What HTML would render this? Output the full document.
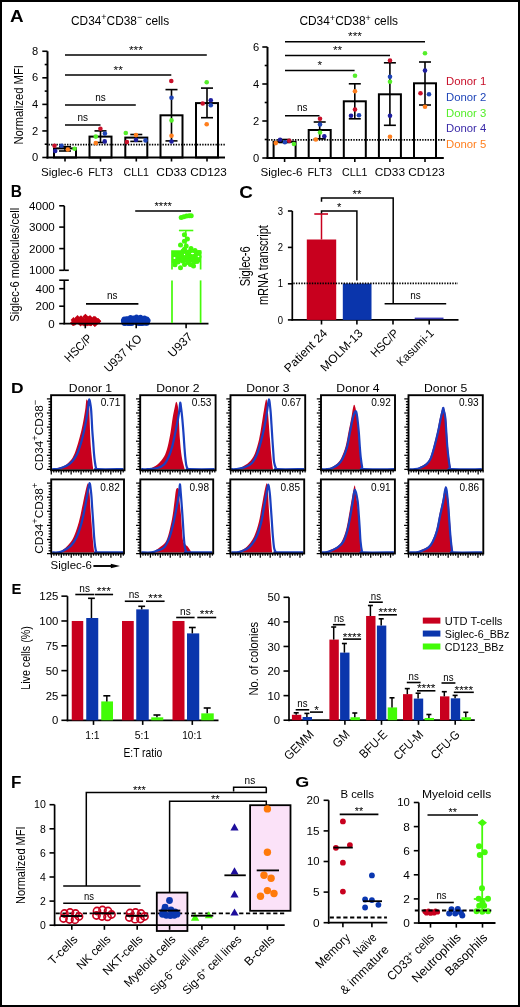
<!DOCTYPE html>
<html><head><meta charset="utf-8"><style>
html,body{margin:0;padding:0;background:#fff;}
svg{display:block;will-change:transform;}
text{font-family:"Liberation Sans", sans-serif;}
</style></head><body>
<svg width="520" height="1007" viewBox="0 0 520 1007">
<rect width="520" height="1007" fill="#fff"/>
<text x="10.00" y="22.20" font-size="17.4" textLength="13.60" lengthAdjust="spacingAndGlyphs" font-weight="bold">A</text>
<line x1="47.50" y1="51.26" x2="47.50" y2="158.50" stroke="#000" stroke-width="2"/>
<line x1="42.30" y1="157.50" x2="47.50" y2="157.50" stroke="#000" stroke-width="1.6"/>
<line x1="44.70" y1="144.22" x2="47.50" y2="144.22" stroke="#000" stroke-width="1.6"/>
<line x1="42.30" y1="130.94" x2="47.50" y2="130.94" stroke="#000" stroke-width="1.6"/>
<line x1="44.70" y1="117.66" x2="47.50" y2="117.66" stroke="#000" stroke-width="1.6"/>
<line x1="42.30" y1="104.38" x2="47.50" y2="104.38" stroke="#000" stroke-width="1.6"/>
<line x1="44.70" y1="91.10" x2="47.50" y2="91.10" stroke="#000" stroke-width="1.6"/>
<line x1="42.30" y1="77.82" x2="47.50" y2="77.82" stroke="#000" stroke-width="1.6"/>
<line x1="44.70" y1="64.54" x2="47.50" y2="64.54" stroke="#000" stroke-width="1.6"/>
<line x1="42.30" y1="51.26" x2="47.50" y2="51.26" stroke="#000" stroke-width="1.6"/>
<line x1="46.50" y1="157.50" x2="225.00" y2="157.50" stroke="#000" stroke-width="2"/>
<line x1="65.00" y1="157.50" x2="65.00" y2="161.50" stroke="#000" stroke-width="1.6"/>
<line x1="100.50" y1="157.50" x2="100.50" y2="161.50" stroke="#000" stroke-width="1.6"/>
<line x1="136.30" y1="157.50" x2="136.30" y2="161.50" stroke="#000" stroke-width="1.6"/>
<line x1="171.50" y1="157.50" x2="171.50" y2="161.50" stroke="#000" stroke-width="1.6"/>
<line x1="207.00" y1="157.50" x2="207.00" y2="161.50" stroke="#000" stroke-width="1.6"/>
<line x1="48.50" y1="144.62" x2="226.00" y2="144.62" stroke="#000" stroke-width="1.6" stroke-dasharray="1.4 1.25"/>
<rect x="54.00" y="148.40" width="22.00" height="9.10" fill="none" stroke="#000" stroke-width="2"/>
<rect x="89.50" y="136.60" width="22.00" height="20.90" fill="none" stroke="#000" stroke-width="2"/>
<rect x="125.30" y="137.60" width="22.00" height="19.90" fill="none" stroke="#000" stroke-width="2"/>
<rect x="160.50" y="115.30" width="22.00" height="42.20" fill="none" stroke="#000" stroke-width="2"/>
<rect x="196.00" y="103.10" width="22.00" height="54.40" fill="none" stroke="#000" stroke-width="2"/>
<line x1="65.00" y1="146.70" x2="65.00" y2="151.00" stroke="#000" stroke-width="1.6"/>
<line x1="59.00" y1="146.70" x2="71.00" y2="146.70" stroke="#000" stroke-width="1.6"/>
<line x1="59.00" y1="151.00" x2="71.00" y2="151.00" stroke="#000" stroke-width="1.6"/>
<line x1="100.50" y1="130.90" x2="100.50" y2="142.50" stroke="#000" stroke-width="1.6"/>
<line x1="94.50" y1="130.90" x2="106.50" y2="130.90" stroke="#000" stroke-width="1.6"/>
<line x1="94.50" y1="142.50" x2="106.50" y2="142.50" stroke="#000" stroke-width="1.6"/>
<line x1="136.30" y1="134.50" x2="136.30" y2="141.40" stroke="#000" stroke-width="1.6"/>
<line x1="130.30" y1="134.50" x2="142.30" y2="134.50" stroke="#000" stroke-width="1.6"/>
<line x1="130.30" y1="141.40" x2="142.30" y2="141.40" stroke="#000" stroke-width="1.6"/>
<line x1="171.50" y1="89.60" x2="171.50" y2="140.90" stroke="#000" stroke-width="1.6"/>
<line x1="165.50" y1="89.60" x2="177.50" y2="89.60" stroke="#000" stroke-width="1.6"/>
<line x1="165.50" y1="140.90" x2="177.50" y2="140.90" stroke="#000" stroke-width="1.6"/>
<line x1="207.00" y1="88.10" x2="207.00" y2="117.70" stroke="#000" stroke-width="1.6"/>
<line x1="201.00" y1="88.10" x2="213.00" y2="88.10" stroke="#000" stroke-width="1.6"/>
<line x1="201.00" y1="117.70" x2="213.00" y2="117.70" stroke="#000" stroke-width="1.6"/>
<circle cx="54.50" cy="145.70" r="2.3" fill="#c8102a"/>
<circle cx="55.20" cy="151.00" r="2.3" fill="#1e1ea0"/>
<circle cx="61.50" cy="145.70" r="2.3" fill="#1f45b8"/>
<circle cx="67.80" cy="149.50" r="2.3" fill="#ff7f1e"/>
<circle cx="74.60" cy="148.80" r="2.3" fill="#55ee2a"/>
<circle cx="100.40" cy="128.80" r="2.3" fill="#c8102a"/>
<circle cx="104.90" cy="133.60" r="2.3" fill="#1f45b8"/>
<circle cx="95.80" cy="136.60" r="2.3" fill="#55ee2a"/>
<circle cx="104.70" cy="141.40" r="2.3" fill="#1e1ea0"/>
<circle cx="95.80" cy="143.10" r="2.3" fill="#ff7f1e"/>
<circle cx="125.80" cy="133.00" r="2.3" fill="#55ee2a"/>
<circle cx="136.00" cy="135.10" r="2.3" fill="#ff7f1e"/>
<circle cx="126.90" cy="142.10" r="2.3" fill="#c8102a"/>
<circle cx="136.00" cy="140.00" r="2.3" fill="#1e1ea0"/>
<circle cx="145.50" cy="140.40" r="2.3" fill="#1f45b8"/>
<circle cx="171.30" cy="81.00" r="2.3" fill="#c8102a"/>
<circle cx="171.50" cy="97.70" r="2.3" fill="#1f45b8"/>
<circle cx="171.50" cy="120.40" r="2.3" fill="#55ee2a"/>
<circle cx="171.50" cy="135.80" r="2.3" fill="#ff7f1e"/>
<circle cx="171.50" cy="141.50" r="2.3" fill="#1e1ea0"/>
<circle cx="206.70" cy="82.30" r="2.3" fill="#55ee2a"/>
<circle cx="210.80" cy="100.20" r="2.3" fill="#1e1ea0"/>
<circle cx="202.70" cy="103.50" r="2.3" fill="#c8102a"/>
<circle cx="210.80" cy="105.20" r="2.3" fill="#1f45b8"/>
<circle cx="206.70" cy="124.20" r="2.3" fill="#ff7f1e"/>
<line x1="65.00" y1="125.00" x2="100.50" y2="125.00" stroke="#000" stroke-width="1.6"/>
<text x="82.75" y="120.50" font-size="11" text-anchor="middle" textLength="10.50" lengthAdjust="spacingAndGlyphs">ns</text>
<line x1="65.00" y1="105.00" x2="135.80" y2="105.00" stroke="#000" stroke-width="1.6"/>
<text x="100.40" y="100.50" font-size="11" text-anchor="middle" textLength="10.50" lengthAdjust="spacingAndGlyphs">ns</text>
<line x1="65.00" y1="75.00" x2="171.30" y2="75.00" stroke="#000" stroke-width="1.6"/>
<text x="118.15" y="73.60" font-size="11" text-anchor="middle" textLength="9.20" lengthAdjust="spacingAndGlyphs">**</text>
<line x1="65.00" y1="55.00" x2="206.80" y2="55.00" stroke="#000" stroke-width="1.6"/>
<text x="135.90" y="53.60" font-size="11" text-anchor="middle" textLength="13.80" lengthAdjust="spacingAndGlyphs">***</text>
<text x="38.30" y="161.10" font-size="10.2" text-anchor="end" textLength="6.20" lengthAdjust="spacingAndGlyphs">0</text>
<text x="38.30" y="134.54" font-size="10.2" text-anchor="end" textLength="6.20" lengthAdjust="spacingAndGlyphs">2</text>
<text x="38.30" y="107.98" font-size="10.2" text-anchor="end" textLength="6.20" lengthAdjust="spacingAndGlyphs">4</text>
<text x="38.30" y="81.42" font-size="10.2" text-anchor="end" textLength="6.20" lengthAdjust="spacingAndGlyphs">6</text>
<text x="38.30" y="54.86" font-size="10.2" text-anchor="end" textLength="6.20" lengthAdjust="spacingAndGlyphs">8</text>
<text x="61.90" y="175.60" font-size="10.6" text-anchor="middle" textLength="42.00" lengthAdjust="spacingAndGlyphs">Siglec-6</text>
<text x="100.50" y="175.60" font-size="10.6" text-anchor="middle" textLength="24.60" lengthAdjust="spacingAndGlyphs">FLT3</text>
<text x="136.30" y="175.60" font-size="10.6" text-anchor="middle" textLength="25.40" lengthAdjust="spacingAndGlyphs">CLL1</text>
<text x="171.50" y="175.60" font-size="10.6" text-anchor="middle" textLength="30.40" lengthAdjust="spacingAndGlyphs">CD33</text>
<text x="208.50" y="175.60" font-size="10.6" text-anchor="middle" textLength="36.40" lengthAdjust="spacingAndGlyphs">CD123</text>
<line x1="267.50" y1="47.00" x2="267.50" y2="159.00" stroke="#000" stroke-width="2"/>
<line x1="262.30" y1="158.00" x2="267.50" y2="158.00" stroke="#000" stroke-width="1.6"/>
<line x1="264.70" y1="139.50" x2="267.50" y2="139.50" stroke="#000" stroke-width="1.6"/>
<line x1="262.30" y1="121.00" x2="267.50" y2="121.00" stroke="#000" stroke-width="1.6"/>
<line x1="264.70" y1="102.50" x2="267.50" y2="102.50" stroke="#000" stroke-width="1.6"/>
<line x1="262.30" y1="84.00" x2="267.50" y2="84.00" stroke="#000" stroke-width="1.6"/>
<line x1="264.70" y1="65.50" x2="267.50" y2="65.50" stroke="#000" stroke-width="1.6"/>
<line x1="262.30" y1="47.00" x2="267.50" y2="47.00" stroke="#000" stroke-width="1.6"/>
<line x1="266.50" y1="158.00" x2="443.80" y2="158.00" stroke="#000" stroke-width="2"/>
<line x1="284.60" y1="158.00" x2="284.60" y2="162.00" stroke="#000" stroke-width="1.6"/>
<line x1="319.70" y1="158.00" x2="319.70" y2="162.00" stroke="#000" stroke-width="1.6"/>
<line x1="354.80" y1="158.00" x2="354.80" y2="162.00" stroke="#000" stroke-width="1.6"/>
<line x1="389.90" y1="158.00" x2="389.90" y2="162.00" stroke="#000" stroke-width="1.6"/>
<line x1="425.00" y1="158.00" x2="425.00" y2="162.00" stroke="#000" stroke-width="1.6"/>
<line x1="268.50" y1="139.90" x2="444.80" y2="139.90" stroke="#000" stroke-width="1.6" stroke-dasharray="1.4 1.25"/>
<rect x="273.60" y="141.80" width="22.00" height="16.20" fill="none" stroke="#000" stroke-width="2"/>
<rect x="308.70" y="130.00" width="22.00" height="28.00" fill="none" stroke="#000" stroke-width="2"/>
<rect x="343.80" y="101.30" width="22.00" height="56.70" fill="none" stroke="#000" stroke-width="2"/>
<rect x="378.90" y="94.30" width="22.00" height="63.70" fill="none" stroke="#000" stroke-width="2"/>
<rect x="414.00" y="83.30" width="22.00" height="74.70" fill="none" stroke="#000" stroke-width="2"/>
<line x1="284.60" y1="139.50" x2="284.60" y2="142.50" stroke="#000" stroke-width="1.6"/>
<line x1="278.60" y1="139.50" x2="290.60" y2="139.50" stroke="#000" stroke-width="1.6"/>
<line x1="278.60" y1="142.50" x2="290.60" y2="142.50" stroke="#000" stroke-width="1.6"/>
<line x1="319.70" y1="122.00" x2="319.70" y2="138.80" stroke="#000" stroke-width="1.6"/>
<line x1="313.70" y1="122.00" x2="325.70" y2="122.00" stroke="#000" stroke-width="1.6"/>
<line x1="313.70" y1="138.80" x2="325.70" y2="138.80" stroke="#000" stroke-width="1.6"/>
<line x1="354.80" y1="83.80" x2="354.80" y2="118.80" stroke="#000" stroke-width="1.6"/>
<line x1="348.80" y1="83.80" x2="360.80" y2="83.80" stroke="#000" stroke-width="1.6"/>
<line x1="348.80" y1="118.80" x2="360.80" y2="118.80" stroke="#000" stroke-width="1.6"/>
<line x1="389.90" y1="62.80" x2="389.90" y2="125.30" stroke="#000" stroke-width="1.6"/>
<line x1="383.90" y1="62.80" x2="395.90" y2="62.80" stroke="#000" stroke-width="1.6"/>
<line x1="383.90" y1="125.30" x2="395.90" y2="125.30" stroke="#000" stroke-width="1.6"/>
<line x1="425.00" y1="62.00" x2="425.00" y2="105.00" stroke="#000" stroke-width="1.6"/>
<line x1="419.00" y1="62.00" x2="431.00" y2="62.00" stroke="#000" stroke-width="1.6"/>
<line x1="419.00" y1="105.00" x2="431.00" y2="105.00" stroke="#000" stroke-width="1.6"/>
<circle cx="275.80" cy="143.10" r="2.3" fill="#ff7f1e"/>
<circle cx="280.10" cy="139.70" r="2.3" fill="#1e1ea0"/>
<circle cx="284.90" cy="142.20" r="2.3" fill="#1f45b8"/>
<circle cx="289.20" cy="140.70" r="2.3" fill="#c8102a"/>
<circle cx="293.90" cy="144.00" r="2.3" fill="#55ee2a"/>
<circle cx="320.00" cy="118.80" r="2.3" fill="#c8102a"/>
<circle cx="320.00" cy="124.50" r="2.3" fill="#1f45b8"/>
<circle cx="320.00" cy="132.50" r="2.3" fill="#55ee2a"/>
<circle cx="324.30" cy="136.30" r="2.3" fill="#1e1ea0"/>
<circle cx="315.80" cy="139.50" r="2.3" fill="#ff7f1e"/>
<circle cx="355.00" cy="75.80" r="2.3" fill="#55ee2a"/>
<circle cx="355.00" cy="91.30" r="2.3" fill="#ff7f1e"/>
<circle cx="355.00" cy="109.50" r="2.3" fill="#c8102a"/>
<circle cx="351.00" cy="115.80" r="2.3" fill="#1e1ea0"/>
<circle cx="359.00" cy="115.30" r="2.3" fill="#1f45b8"/>
<circle cx="390.00" cy="60.50" r="2.3" fill="#c8102a"/>
<circle cx="390.00" cy="76.80" r="2.3" fill="#1f45b8"/>
<circle cx="390.00" cy="81.80" r="2.3" fill="#55ee2a"/>
<circle cx="390.00" cy="115.80" r="2.3" fill="#1e1ea0"/>
<circle cx="390.00" cy="136.80" r="2.3" fill="#ff7f1e"/>
<circle cx="425.00" cy="53.30" r="2.3" fill="#55ee2a"/>
<circle cx="425.00" cy="70.50" r="2.3" fill="#1e1ea0"/>
<circle cx="420.50" cy="93.30" r="2.3" fill="#c8102a"/>
<circle cx="429.00" cy="94.30" r="2.3" fill="#1f45b8"/>
<circle cx="425.00" cy="106.80" r="2.3" fill="#ff7f1e"/>
<line x1="285.00" y1="115.80" x2="319.50" y2="115.80" stroke="#000" stroke-width="1.6"/>
<text x="302.25" y="111.30" font-size="11" text-anchor="middle" textLength="10.50" lengthAdjust="spacingAndGlyphs">ns</text>
<line x1="285.00" y1="70.50" x2="354.60" y2="70.50" stroke="#000" stroke-width="1.6"/>
<text x="319.80" y="69.10" font-size="11" text-anchor="middle" textLength="4.60" lengthAdjust="spacingAndGlyphs">*</text>
<line x1="285.00" y1="55.50" x2="390.00" y2="55.50" stroke="#000" stroke-width="1.6"/>
<text x="337.50" y="54.10" font-size="11" text-anchor="middle" textLength="9.20" lengthAdjust="spacingAndGlyphs">**</text>
<line x1="285.00" y1="41.80" x2="425.00" y2="41.80" stroke="#000" stroke-width="1.6"/>
<text x="355.00" y="40.40" font-size="11" text-anchor="middle" textLength="13.80" lengthAdjust="spacingAndGlyphs">***</text>
<text x="259.20" y="161.60" font-size="10.2" text-anchor="end" textLength="6.20" lengthAdjust="spacingAndGlyphs">0</text>
<text x="259.20" y="124.60" font-size="10.2" text-anchor="end" textLength="6.20" lengthAdjust="spacingAndGlyphs">2</text>
<text x="259.20" y="87.60" font-size="10.2" text-anchor="end" textLength="6.20" lengthAdjust="spacingAndGlyphs">4</text>
<text x="259.20" y="50.60" font-size="10.2" text-anchor="end" textLength="6.20" lengthAdjust="spacingAndGlyphs">6</text>
<text x="281.50" y="175.60" font-size="10.6" text-anchor="middle" textLength="42.00" lengthAdjust="spacingAndGlyphs">Siglec-6</text>
<text x="319.70" y="175.60" font-size="10.6" text-anchor="middle" textLength="24.60" lengthAdjust="spacingAndGlyphs">FLT3</text>
<text x="354.80" y="175.60" font-size="10.6" text-anchor="middle" textLength="25.40" lengthAdjust="spacingAndGlyphs">CLL1</text>
<text x="389.90" y="175.60" font-size="10.6" text-anchor="middle" textLength="30.40" lengthAdjust="spacingAndGlyphs">CD33</text>
<text x="426.50" y="175.60" font-size="10.6" text-anchor="middle" textLength="36.40" lengthAdjust="spacingAndGlyphs">CD123</text>
<text x="71.0" y="24.5" font-size="11.9" textLength="98.2" lengthAdjust="spacingAndGlyphs">CD34<tspan dy="-4.4" font-size="9">+</tspan><tspan dy="4.4">CD38</tspan><tspan dy="-4.4" font-size="9">−</tspan><tspan dy="4.4"> cells</tspan></text>
<text x="299.4" y="24.9" font-size="11.9" textLength="98.6" lengthAdjust="spacingAndGlyphs">CD34<tspan dy="-4.4" font-size="9">+</tspan><tspan dy="4.4">CD38</tspan><tspan dy="-4.4" font-size="9">+</tspan><tspan dy="4.4"> cells</tspan></text>
<text x="22.90" y="104.80" font-size="13.4" text-anchor="middle" textLength="79.50" lengthAdjust="spacingAndGlyphs" transform="rotate(-90 22.90 104.80)">Normalized MFI</text>
<text x="446.00" y="85.40" font-size="11" fill="#c8102a" textLength="40.30" lengthAdjust="spacingAndGlyphs">Donor 1</text>
<text x="446.00" y="101.00" font-size="11" fill="#1f45b8" textLength="40.30" lengthAdjust="spacingAndGlyphs">Donor 2</text>
<text x="446.00" y="116.60" font-size="11" fill="#55ee2a" textLength="40.30" lengthAdjust="spacingAndGlyphs">Donor 3</text>
<text x="446.00" y="132.20" font-size="11" fill="#3a2aa8" textLength="40.30" lengthAdjust="spacingAndGlyphs">Donor 4</text>
<text x="446.00" y="147.80" font-size="11" fill="#ff7f1e" textLength="40.30" lengthAdjust="spacingAndGlyphs">Donor 5</text>
<text x="10.80" y="197.30" font-size="16.2" textLength="11.20" lengthAdjust="spacingAndGlyphs" font-weight="bold">B</text>
<line x1="64.30" y1="205.80" x2="64.30" y2="270.30" stroke="#000" stroke-width="1.7"/>
<line x1="59.20" y1="205.80" x2="64.30" y2="205.80" stroke="#000" stroke-width="1.6"/>
<text x="54.80" y="209.70" font-size="11.2" text-anchor="end" textLength="25.80" lengthAdjust="spacingAndGlyphs">4000</text>
<line x1="59.20" y1="227.10" x2="64.30" y2="227.10" stroke="#000" stroke-width="1.6"/>
<text x="54.80" y="231.00" font-size="11.2" text-anchor="end" textLength="25.80" lengthAdjust="spacingAndGlyphs">3000</text>
<line x1="59.20" y1="248.60" x2="64.30" y2="248.60" stroke="#000" stroke-width="1.6"/>
<text x="54.80" y="252.50" font-size="11.2" text-anchor="end" textLength="25.80" lengthAdjust="spacingAndGlyphs">2000</text>
<line x1="59.20" y1="270.30" x2="64.30" y2="270.30" stroke="#000" stroke-width="1.6"/>
<text x="54.80" y="274.20" font-size="11.2" text-anchor="end" textLength="25.80" lengthAdjust="spacingAndGlyphs">1000</text>
<line x1="64.30" y1="270.30" x2="68.80" y2="270.30" stroke="#000" stroke-width="1.6"/>
<line x1="64.30" y1="280.20" x2="64.30" y2="324.30" stroke="#000" stroke-width="1.7"/>
<line x1="59.20" y1="280.20" x2="68.80" y2="280.20" stroke="#000" stroke-width="1.6"/>
<line x1="59.20" y1="288.70" x2="64.30" y2="288.70" stroke="#000" stroke-width="1.6"/>
<text x="54.80" y="292.60" font-size="11.2" text-anchor="end" textLength="19.35" lengthAdjust="spacingAndGlyphs">400</text>
<line x1="59.20" y1="306.20" x2="64.30" y2="306.20" stroke="#000" stroke-width="1.6"/>
<text x="54.80" y="310.10" font-size="11.2" text-anchor="end" textLength="19.35" lengthAdjust="spacingAndGlyphs">200</text>
<line x1="59.20" y1="323.60" x2="64.30" y2="323.60" stroke="#000" stroke-width="1.6"/>
<text x="54.80" y="327.50" font-size="11.2" text-anchor="end" textLength="6.45" lengthAdjust="spacingAndGlyphs">0</text>
<path d="M78.69 318.71L81.59 321.61L78.69 324.51L75.79 321.61Z" fill="#c40012"/>
<path d="M82.12 319.00L85.02 321.90L82.12 324.80L79.22 321.90Z" fill="#c40012"/>
<path d="M88.77 316.41L91.67 319.31L88.77 322.21L85.87 319.31Z" fill="#c40012"/>
<path d="M72.84 320.12L75.74 323.02L72.84 325.92L69.94 323.02Z" fill="#c40012"/>
<path d="M79.24 317.22L82.14 320.12L79.24 323.02L76.34 320.12Z" fill="#c40012"/>
<path d="M98.39 318.36L101.29 321.26L98.39 324.16L95.49 321.26Z" fill="#c40012"/>
<path d="M94.25 318.39L97.15 321.29L94.25 324.19L91.35 321.29Z" fill="#c40012"/>
<path d="M89.12 316.82L92.02 319.72L89.12 322.62L86.22 319.72Z" fill="#c40012"/>
<path d="M89.01 320.27L91.91 323.17L89.01 326.07L86.11 323.17Z" fill="#c40012"/>
<path d="M86.10 319.66L89.00 322.56L86.10 325.46L83.20 322.56Z" fill="#c40012"/>
<path d="M89.96 316.41L92.86 319.31L89.96 322.21L87.06 319.31Z" fill="#c40012"/>
<path d="M92.21 318.94L95.11 321.84L92.21 324.74L89.31 321.84Z" fill="#c40012"/>
<path d="M80.33 316.25L83.23 319.15L80.33 322.05L77.43 319.15Z" fill="#c40012"/>
<path d="M95.00 318.37L97.90 321.27L95.00 324.17L92.10 321.27Z" fill="#c40012"/>
<path d="M91.19 320.32L94.09 323.22L91.19 326.12L88.29 323.22Z" fill="#c40012"/>
<path d="M91.07 320.52L93.97 323.42L91.07 326.32L88.17 323.42Z" fill="#c40012"/>
<path d="M82.77 319.94L85.67 322.84L82.77 325.74L79.87 322.84Z" fill="#c40012"/>
<path d="M84.06 320.59L86.96 323.49L84.06 326.39L81.16 323.49Z" fill="#c40012"/>
<path d="M95.35 316.57L98.25 319.47L95.35 322.37L92.45 319.47Z" fill="#c40012"/>
<path d="M76.04 317.14L78.94 320.04L76.04 322.94L73.14 320.04Z" fill="#c40012"/>
<path d="M97.60 318.19L100.50 321.09L97.60 323.99L94.70 321.09Z" fill="#c40012"/>
<path d="M88.79 317.54L91.69 320.44L88.79 323.34L85.89 320.44Z" fill="#c40012"/>
<path d="M85.69 317.95L88.59 320.85L85.69 323.75L82.79 320.85Z" fill="#c40012"/>
<path d="M81.62 318.91L84.52 321.81L81.62 324.71L78.72 321.81Z" fill="#c40012"/>
<path d="M87.69 320.44L90.59 323.34L87.69 326.24L84.79 323.34Z" fill="#c40012"/>
<path d="M90.23 320.56L93.13 323.46L90.23 326.36L87.33 323.46Z" fill="#c40012"/>
<path d="M94.77 320.86L97.67 323.76L94.77 326.66L91.87 323.76Z" fill="#c40012"/>
<path d="M89.95 316.88L92.85 319.78L89.95 322.68L87.05 319.78Z" fill="#c40012"/>
<path d="M94.88 320.73L97.78 323.63L94.88 326.53L91.98 323.63Z" fill="#c40012"/>
<path d="M96.02 318.83L98.92 321.73L96.02 324.63L93.12 321.73Z" fill="#c40012"/>
<path d="M91.06 317.11L93.96 320.01L91.06 322.91L88.16 320.01Z" fill="#c40012"/>
<path d="M94.12 318.85L97.02 321.75L94.12 324.65L91.22 321.75Z" fill="#c40012"/>
<path d="M79.91 316.40L82.81 319.30L79.91 322.20L77.01 319.30Z" fill="#c40012"/>
<path d="M94.70 320.85L97.60 323.75L94.70 326.65L91.80 323.75Z" fill="#c40012"/>
<path d="M74.80 319.94L77.70 322.84L74.80 325.74L71.90 322.84Z" fill="#c40012"/>
<path d="M83.17 316.82L86.07 319.72L83.17 322.62L80.27 319.72Z" fill="#c40012"/>
<path d="M80.14 319.79L83.04 322.69L80.14 325.59L77.24 322.69Z" fill="#c40012"/>
<path d="M95.19 316.31L98.09 319.21L95.19 322.11L92.29 319.21Z" fill="#c40012"/>
<path d="M88.48 316.32L91.38 319.22L88.48 322.12L85.58 319.22Z" fill="#c40012"/>
<path d="M91.18 317.69L94.08 320.59L91.18 323.49L88.28 320.59Z" fill="#c40012"/>
<path d="M95.40 320.81L98.30 323.71L95.40 326.61L92.50 323.71Z" fill="#c40012"/>
<path d="M85.64 320.89L88.54 323.79L85.64 326.69L82.74 323.79Z" fill="#c40012"/>
<path d="M80.55 316.47L83.45 319.37L80.55 322.27L77.65 319.37Z" fill="#c40012"/>
<path d="M88.09 316.25L90.99 319.15L88.09 322.05L85.19 319.15Z" fill="#c40012"/>
<path d="M77.63 318.06L80.53 320.96L77.63 323.86L74.73 320.96Z" fill="#c40012"/>
<path d="M88.37 316.85L91.27 319.75L88.37 322.65L85.47 319.75Z" fill="#c40012"/>
<path d="M73.60 320.27L76.50 323.17L73.60 326.07L70.70 323.17Z" fill="#c40012"/>
<path d="M80.66 320.70L83.56 323.60L80.66 326.50L77.76 323.60Z" fill="#c40012"/>
<path d="M95.81 317.91L98.71 320.81L95.81 323.71L92.91 320.81Z" fill="#c40012"/>
<path d="M84.47 318.60L87.37 321.50L84.47 324.40L81.57 321.50Z" fill="#c40012"/>
<path d="M89.24 318.96L92.14 321.86L89.24 324.76L86.34 321.86Z" fill="#c40012"/>
<path d="M87.04 319.08L89.94 321.98L87.04 324.88L84.14 321.98Z" fill="#c40012"/>
<path d="M96.96 318.53L99.86 321.43L96.96 324.33L94.06 321.43Z" fill="#c40012"/>
<path d="M83.71 319.56L86.61 322.46L83.71 325.36L80.81 322.46Z" fill="#c40012"/>
<path d="M78.68 317.55L81.58 320.45L78.68 323.35L75.78 320.45Z" fill="#c40012"/>
<path d="M85.40 313.70L88.30 316.60L85.40 319.50L82.50 316.60Z" fill="#c40012"/>
<path d="M77.50 315.10L80.40 318.00L77.50 320.90L74.60 318.00Z" fill="#c40012"/>
<path d="M81.00 315.30L83.90 318.20L81.00 321.10L78.10 318.20Z" fill="#c40012"/>
<path d="M90.00 315.10L92.90 318.00L90.00 320.90L87.10 318.00Z" fill="#c40012"/>
<path d="M94.00 315.70L96.90 318.60L94.00 321.50L91.10 318.60Z" fill="#c40012"/>
<path d="M73.50 317.10L76.40 320.00L73.50 322.90L70.60 320.00Z" fill="#c40012"/>
<path d="M98.00 318.10L100.90 321.00L98.00 323.90L95.10 321.00Z" fill="#c40012"/>
<circle cx="138.64" cy="322.34" r="2.6" fill="#0a37b0"/>
<circle cx="142.69" cy="323.24" r="2.6" fill="#0a37b0"/>
<circle cx="141.39" cy="323.15" r="2.6" fill="#0a37b0"/>
<circle cx="124.68" cy="321.10" r="2.6" fill="#0a37b0"/>
<circle cx="146.17" cy="321.92" r="2.6" fill="#0a37b0"/>
<circle cx="145.17" cy="319.51" r="2.6" fill="#0a37b0"/>
<circle cx="135.02" cy="320.11" r="2.6" fill="#0a37b0"/>
<circle cx="136.78" cy="321.58" r="2.6" fill="#0a37b0"/>
<circle cx="124.31" cy="319.98" r="2.6" fill="#0a37b0"/>
<circle cx="130.57" cy="323.12" r="2.6" fill="#0a37b0"/>
<circle cx="141.99" cy="319.72" r="2.6" fill="#0a37b0"/>
<circle cx="142.73" cy="319.62" r="2.6" fill="#0a37b0"/>
<circle cx="138.51" cy="319.57" r="2.6" fill="#0a37b0"/>
<circle cx="124.04" cy="322.92" r="2.6" fill="#0a37b0"/>
<circle cx="128.92" cy="319.97" r="2.6" fill="#0a37b0"/>
<circle cx="147.09" cy="322.93" r="2.6" fill="#0a37b0"/>
<circle cx="130.80" cy="323.33" r="2.6" fill="#0a37b0"/>
<circle cx="136.67" cy="322.05" r="2.6" fill="#0a37b0"/>
<circle cx="128.81" cy="323.23" r="2.6" fill="#0a37b0"/>
<circle cx="140.23" cy="323.35" r="2.6" fill="#0a37b0"/>
<circle cx="145.00" cy="320.34" r="2.6" fill="#0a37b0"/>
<circle cx="132.49" cy="319.75" r="2.6" fill="#0a37b0"/>
<circle cx="127.42" cy="319.29" r="2.6" fill="#0a37b0"/>
<circle cx="131.08" cy="321.71" r="2.6" fill="#0a37b0"/>
<circle cx="124.08" cy="322.05" r="2.6" fill="#0a37b0"/>
<circle cx="131.94" cy="320.39" r="2.6" fill="#0a37b0"/>
<circle cx="143.24" cy="321.16" r="2.6" fill="#0a37b0"/>
<circle cx="131.42" cy="321.17" r="2.6" fill="#0a37b0"/>
<circle cx="140.56" cy="319.26" r="2.6" fill="#0a37b0"/>
<circle cx="146.91" cy="319.10" r="2.6" fill="#0a37b0"/>
<circle cx="141.62" cy="322.80" r="2.6" fill="#0a37b0"/>
<circle cx="124.42" cy="322.54" r="2.6" fill="#0a37b0"/>
<circle cx="132.61" cy="321.60" r="2.6" fill="#0a37b0"/>
<circle cx="124.21" cy="319.21" r="2.6" fill="#0a37b0"/>
<circle cx="128.25" cy="323.30" r="2.6" fill="#0a37b0"/>
<circle cx="128.62" cy="322.40" r="2.6" fill="#0a37b0"/>
<circle cx="145.85" cy="323.24" r="2.6" fill="#0a37b0"/>
<circle cx="132.09" cy="320.60" r="2.6" fill="#0a37b0"/>
<circle cx="136.33" cy="322.49" r="2.6" fill="#0a37b0"/>
<circle cx="126.54" cy="322.37" r="2.6" fill="#0a37b0"/>
<circle cx="142.73" cy="322.87" r="2.6" fill="#0a37b0"/>
<circle cx="124.86" cy="323.26" r="2.6" fill="#0a37b0"/>
<circle cx="126.14" cy="320.53" r="2.6" fill="#0a37b0"/>
<circle cx="138.35" cy="323.13" r="2.6" fill="#0a37b0"/>
<circle cx="131.99" cy="323.16" r="2.6" fill="#0a37b0"/>
<circle cx="136.81" cy="320.41" r="2.6" fill="#0a37b0"/>
<circle cx="131.44" cy="319.80" r="2.6" fill="#0a37b0"/>
<circle cx="125.84" cy="319.67" r="2.6" fill="#0a37b0"/>
<circle cx="140.20" cy="323.49" r="2.6" fill="#0a37b0"/>
<circle cx="127.80" cy="319.22" r="2.6" fill="#0a37b0"/>
<circle cx="147.19" cy="321.40" r="2.6" fill="#0a37b0"/>
<circle cx="133.54" cy="320.07" r="2.6" fill="#0a37b0"/>
<circle cx="137.96" cy="322.72" r="2.6" fill="#0a37b0"/>
<circle cx="134.71" cy="320.90" r="2.6" fill="#0a37b0"/>
<circle cx="125.31" cy="323.12" r="2.6" fill="#0a37b0"/>
<circle cx="130.50" cy="317.60" r="2.6" fill="#0a37b0"/>
<circle cx="136.50" cy="317.20" r="2.6" fill="#0a37b0"/>
<circle cx="140.50" cy="317.40" r="2.6" fill="#0a37b0"/>
<circle cx="144.50" cy="318.20" r="2.6" fill="#0a37b0"/>
<circle cx="126.50" cy="318.80" r="2.6" fill="#0a37b0"/>
<circle cx="133.50" cy="318.00" r="2.6" fill="#0a37b0"/>
<circle cx="148.00" cy="320.50" r="2.6" fill="#0a37b0"/>
<circle cx="123.50" cy="320.50" r="2.6" fill="#0a37b0"/>
<line x1="63.50" y1="323.60" x2="208.50" y2="323.60" stroke="#000" stroke-width="1.8"/>
<line x1="85.30" y1="323.60" x2="85.30" y2="328.30" stroke="#000" stroke-width="1.6"/>
<line x1="136.20" y1="323.60" x2="136.20" y2="328.30" stroke="#000" stroke-width="1.6"/>
<line x1="186.10" y1="323.60" x2="186.10" y2="328.30" stroke="#000" stroke-width="1.6"/>
<text x="18.80" y="264.80" font-size="13.4" text-anchor="middle" textLength="114.00" lengthAdjust="spacingAndGlyphs" transform="rotate(-90 18.80 264.80)">Siglec-6 molecules/cell</text>
<path d="M172 269.6 L172 251.2 L200.6 251.2 L200.6 269.6" stroke="#45fa0a" stroke-width="1.7" fill="none"/>
<line x1="172.00" y1="280.40" x2="172.00" y2="323.00" stroke="#45fa0a" stroke-width="1.7"/>
<line x1="200.60" y1="280.40" x2="200.60" y2="323.00" stroke="#45fa0a" stroke-width="1.7"/>
<line x1="185.80" y1="230.50" x2="185.80" y2="251.20" stroke="#45fa0a" stroke-width="1.5"/>
<line x1="178.90" y1="230.50" x2="193.30" y2="230.50" stroke="#45fa0a" stroke-width="1.6"/>
<rect x="172.00" y="251.20" width="28.60" height="11.00" fill="#45fa0a"/>
<circle cx="181.20" cy="217.60" r="2.5" fill="#45fa0a"/>
<circle cx="183.80" cy="216.80" r="2.5" fill="#45fa0a"/>
<circle cx="186.50" cy="216.00" r="2.5" fill="#45fa0a"/>
<circle cx="189.20" cy="215.80" r="2.5" fill="#45fa0a"/>
<circle cx="191.20" cy="215.70" r="2.5" fill="#45fa0a"/>
<circle cx="184.40" cy="234.80" r="2.5" fill="#45fa0a"/>
<circle cx="187.40" cy="239.00" r="2.5" fill="#45fa0a"/>
<circle cx="184.40" cy="241.20" r="2.5" fill="#45fa0a"/>
<circle cx="180.50" cy="245.00" r="2.5" fill="#45fa0a"/>
<circle cx="191.00" cy="248.60" r="2.5" fill="#45fa0a"/>
<circle cx="184.40" cy="249.20" r="2.5" fill="#45fa0a"/>
<circle cx="176.50" cy="254.50" r="2.5" fill="#45fa0a"/>
<circle cx="181.00" cy="253.60" r="2.5" fill="#45fa0a"/>
<circle cx="186.00" cy="253.50" r="2.5" fill="#45fa0a"/>
<circle cx="190.50" cy="254.80" r="2.5" fill="#45fa0a"/>
<circle cx="195.50" cy="253.20" r="2.5" fill="#45fa0a"/>
<circle cx="199.00" cy="256.80" r="2.5" fill="#45fa0a"/>
<circle cx="174.30" cy="261.50" r="2.5" fill="#45fa0a"/>
<circle cx="178.50" cy="258.50" r="2.5" fill="#45fa0a"/>
<circle cx="183.00" cy="257.50" r="2.5" fill="#45fa0a"/>
<circle cx="187.00" cy="259.80" r="2.5" fill="#45fa0a"/>
<circle cx="192.00" cy="258.50" r="2.5" fill="#45fa0a"/>
<circle cx="197.90" cy="257.10" r="2.5" fill="#45fa0a"/>
<circle cx="180.50" cy="267.70" r="2.5" fill="#45fa0a"/>
<circle cx="184.50" cy="264.50" r="2.5" fill="#45fa0a"/>
<circle cx="188.00" cy="262.50" r="2.5" fill="#45fa0a"/>
<circle cx="190.40" cy="264.60" r="2.5" fill="#45fa0a"/>
<circle cx="194.00" cy="262.00" r="2.5" fill="#45fa0a"/>
<circle cx="176.80" cy="256.80" r="2.5" fill="#45fa0a"/>
<circle cx="186.20" cy="246.00" r="2.5" fill="#45fa0a"/>
<circle cx="175.00" cy="264.80" r="2.5" fill="#45fa0a"/>
<circle cx="178.00" cy="262.00" r="2.5" fill="#45fa0a"/>
<circle cx="182.50" cy="261.00" r="2.5" fill="#45fa0a"/>
<circle cx="186.00" cy="256.50" r="2.5" fill="#45fa0a"/>
<circle cx="193.50" cy="266.00" r="2.5" fill="#45fa0a"/>
<circle cx="197.00" cy="261.50" r="2.5" fill="#45fa0a"/>
<circle cx="174.80" cy="253.50" r="2.5" fill="#45fa0a"/>
<circle cx="179.50" cy="255.80" r="2.5" fill="#45fa0a"/>
<circle cx="189.00" cy="251.80" r="2.5" fill="#45fa0a"/>
<circle cx="195.00" cy="250.50" r="2.5" fill="#45fa0a"/>
<circle cx="183.00" cy="251.00" r="2.5" fill="#45fa0a"/>
<circle cx="199.00" cy="252.50" r="2.5" fill="#45fa0a"/>
<circle cx="192.00" cy="256.00" r="2.5" fill="#45fa0a"/>
<ellipse cx="192.5" cy="253.5" rx="1.6" ry="0.8" fill="#fff"/>
<ellipse cx="174.5" cy="258.0" rx="1.0" ry="1.0" fill="#fff"/>
<ellipse cx="184.5" cy="254.5" rx="0.6" ry="0.8" fill="#fff"/>
<ellipse cx="198.5" cy="256.5" rx="0.8" ry="0.8" fill="#fff"/>
<line x1="86.00" y1="303.90" x2="138.40" y2="303.90" stroke="#000" stroke-width="1.6"/>
<text x="112.20" y="299.20" font-size="11.2" text-anchor="middle" textLength="10.50" lengthAdjust="spacingAndGlyphs">ns</text>
<line x1="135.20" y1="211.00" x2="191.00" y2="211.00" stroke="#000" stroke-width="1.6"/>
<text x="163.20" y="210.20" font-size="10.5" text-anchor="middle" textLength="17.50" lengthAdjust="spacingAndGlyphs">****</text>
<text x="93.00" y="339.00" font-size="12.0" text-anchor="end" textLength="33.50" lengthAdjust="spacingAndGlyphs" transform="rotate(-45 93.00 339.00)">HSC/P</text>
<text x="142.50" y="339.50" font-size="12.0" text-anchor="end" textLength="47.50" lengthAdjust="spacingAndGlyphs" transform="rotate(-45 142.50 339.50)">U937 KO</text>
<text x="193.20" y="337.50" font-size="12.0" text-anchor="end" textLength="29.00" lengthAdjust="spacingAndGlyphs" transform="rotate(-45 193.20 337.50)">U937</text>
<text x="239.30" y="198.40" font-size="16.8" textLength="13.60" lengthAdjust="spacingAndGlyphs" font-weight="bold">C</text>
<line x1="292.30" y1="211.00" x2="292.30" y2="320.60" stroke="#000" stroke-width="1.7"/>
<line x1="287.90" y1="211.00" x2="292.30" y2="211.00" stroke="#000" stroke-width="1.6"/>
<text x="283.00" y="214.60" font-size="10.2" text-anchor="end" textLength="5.30" lengthAdjust="spacingAndGlyphs">3</text>
<line x1="287.90" y1="247.40" x2="292.30" y2="247.40" stroke="#000" stroke-width="1.6"/>
<text x="283.00" y="251.00" font-size="10.2" text-anchor="end" textLength="5.30" lengthAdjust="spacingAndGlyphs">2</text>
<line x1="287.90" y1="283.80" x2="292.30" y2="283.80" stroke="#000" stroke-width="1.6"/>
<text x="283.00" y="287.40" font-size="10.2" text-anchor="end" textLength="5.30" lengthAdjust="spacingAndGlyphs">1</text>
<line x1="287.90" y1="319.90" x2="292.30" y2="319.90" stroke="#000" stroke-width="1.6"/>
<text x="283.00" y="323.50" font-size="10.2" text-anchor="end" textLength="5.30" lengthAdjust="spacingAndGlyphs">0</text>
<line x1="291.50" y1="319.90" x2="458.50" y2="319.90" stroke="#000" stroke-width="1.8"/>
<line x1="321.50" y1="319.90" x2="321.50" y2="324.50" stroke="#000" stroke-width="1.6"/>
<line x1="356.90" y1="319.90" x2="356.90" y2="324.50" stroke="#000" stroke-width="1.6"/>
<line x1="393.00" y1="319.90" x2="393.00" y2="324.50" stroke="#000" stroke-width="1.6"/>
<line x1="429.20" y1="319.90" x2="429.20" y2="324.50" stroke="#000" stroke-width="1.6"/>
<rect x="342.80" y="283.50" width="28.70" height="36.40" fill="#0a35ac"/>
<rect x="306.80" y="239.50" width="29.40" height="80.40" fill="#c8001e"/>
<rect x="414.70" y="317.60" width="28.80" height="1.60" fill="#3a3ab8"/>
<line x1="293.30" y1="283.30" x2="458.00" y2="283.30" stroke="#000" stroke-width="1.8" stroke-dasharray="1.4 1.25"/>
<line x1="321.50" y1="214.00" x2="321.50" y2="239.50" stroke="#c8001e" stroke-width="1.5"/>
<line x1="314.30" y1="214.00" x2="328.00" y2="214.00" stroke="#c8001e" stroke-width="1.6"/>
<path d="M321.5 213.5 L321.5 211 L356.9 211 L356.9 280.4" stroke="#000" stroke-width="1.5" fill="none"/>
<path d="M321.5 201.8 L321.5 198 L393.2 198 L393.2 303" stroke="#000" stroke-width="1.5" fill="none"/>
<line x1="384.60" y1="303.70" x2="446.20" y2="303.70" stroke="#000" stroke-width="1.6"/>
<text x="339.20" y="210.50" font-size="10.5" text-anchor="middle" textLength="4.40" lengthAdjust="spacingAndGlyphs">*</text>
<text x="357.00" y="197.50" font-size="10.5" text-anchor="middle" textLength="9.00" lengthAdjust="spacingAndGlyphs">**</text>
<text x="415.40" y="299.40" font-size="11.2" text-anchor="middle" textLength="10.50" lengthAdjust="spacingAndGlyphs">ns</text>
<text x="250.5" y="266.3" font-size="14.2" text-anchor="middle" textLength="40" lengthAdjust="spacingAndGlyphs" transform="rotate(-90 250.5 266.3)">Siglec-6</text>
<text x="267.7" y="265.1" font-size="14.2" text-anchor="middle" textLength="80" lengthAdjust="spacingAndGlyphs" transform="rotate(-90 267.7 265.1)">mRNA transcript</text>
<text x="328.00" y="334.00" font-size="12.0" text-anchor="end" textLength="55.00" lengthAdjust="spacingAndGlyphs" transform="rotate(-45 328.00 334.00)">Patient 24</text>
<text x="363.50" y="334.00" font-size="12.0" text-anchor="end" textLength="54.00" lengthAdjust="spacingAndGlyphs" transform="rotate(-45 363.50 334.00)">MOLM-13</text>
<text x="399.50" y="334.00" font-size="12.0" text-anchor="end" textLength="34.00" lengthAdjust="spacingAndGlyphs" transform="rotate(-45 399.50 334.00)">HSC/P</text>
<text x="434.50" y="334.00" font-size="12.0" text-anchor="end" textLength="46.50" lengthAdjust="spacingAndGlyphs" transform="rotate(-45 434.50 334.00)">Kasumi-1</text>
<text x="10.90" y="393.00" font-size="14.0" textLength="12.60" lengthAdjust="spacingAndGlyphs" font-weight="bold">D</text>
<path d="M52.80 469.40 C53.63 469.18 55.72 468.80 57.80 468.10 C59.88 467.40 63.18 466.45 65.30 465.20 C67.42 463.95 68.97 462.52 70.50 460.60 C72.03 458.68 73.20 456.77 74.50 453.70 C75.80 450.63 77.15 446.05 78.30 442.20 C79.45 438.35 80.50 434.47 81.40 430.60 C82.30 426.73 83.02 422.85 83.70 419.00 C84.38 415.15 85.02 410.75 85.50 407.50 C85.98 404.25 86.02 399.92 86.60 399.50 C87.18 399.08 88.50 401.75 89.00 405.00 C89.50 408.25 89.37 413.17 89.60 419.00 C89.83 424.83 90.07 434.00 90.40 440.00 C90.73 446.00 91.17 450.42 91.60 455.00 C92.03 459.58 92.67 465.10 93.00 467.50 C93.33 469.90 93.50 469.08 93.60 469.40 Z" fill="#c8001e"/>
<path d="M52.10 469.20 C52.35 469.20 52.52 469.28 53.60 469.20 C54.68 469.12 56.43 469.27 58.60 468.70 C60.77 468.13 64.30 467.05 66.60 465.80 C68.90 464.55 70.67 463.12 72.40 461.20 C74.13 459.28 75.55 457.37 77.00 454.30 C78.45 451.23 79.93 446.65 81.10 442.80 C82.27 438.95 83.13 435.07 84.00 431.20 C84.87 427.33 85.63 423.45 86.30 419.60 C86.97 415.75 87.52 411.47 88.00 408.10 C88.48 404.73 88.72 399.50 89.20 399.40 C89.68 399.30 90.48 404.23 90.90 407.50 C91.32 410.77 91.47 415.15 91.70 419.00 C91.93 422.85 92.05 426.73 92.30 430.60 C92.55 434.47 92.92 438.35 93.20 442.20 C93.48 446.05 93.72 450.40 94.00 453.70 C94.28 457.00 94.55 459.57 94.90 462.00 C95.25 464.43 95.70 467.10 96.10 468.30 C96.50 469.50 92.73 469.05 97.30 469.20 C101.87 469.35 119.13 469.20 123.50 469.20" fill="none" stroke="#1a3fc0" stroke-width="2.2" stroke-linejoin="round"/>
<rect x="51.10" y="395.20" width="73.40" height="75.10" fill="none" stroke="#000" stroke-width="1.9"/>
<line x1="46.90" y1="398.90" x2="51.10" y2="398.90" stroke="#000" stroke-width="1.25"/>
<line x1="48.50" y1="401.72" x2="51.10" y2="401.72" stroke="#000" stroke-width="1.25"/>
<line x1="48.50" y1="404.54" x2="51.10" y2="404.54" stroke="#000" stroke-width="1.25"/>
<line x1="48.50" y1="407.36" x2="51.10" y2="407.36" stroke="#000" stroke-width="1.25"/>
<line x1="48.50" y1="410.18" x2="51.10" y2="410.18" stroke="#000" stroke-width="1.25"/>
<line x1="46.90" y1="413.00" x2="51.10" y2="413.00" stroke="#000" stroke-width="1.25"/>
<line x1="48.50" y1="415.82" x2="51.10" y2="415.82" stroke="#000" stroke-width="1.25"/>
<line x1="48.50" y1="418.64" x2="51.10" y2="418.64" stroke="#000" stroke-width="1.25"/>
<line x1="48.50" y1="421.46" x2="51.10" y2="421.46" stroke="#000" stroke-width="1.25"/>
<line x1="48.50" y1="424.28" x2="51.10" y2="424.28" stroke="#000" stroke-width="1.25"/>
<line x1="46.90" y1="427.10" x2="51.10" y2="427.10" stroke="#000" stroke-width="1.25"/>
<line x1="48.50" y1="429.92" x2="51.10" y2="429.92" stroke="#000" stroke-width="1.25"/>
<line x1="48.50" y1="432.74" x2="51.10" y2="432.74" stroke="#000" stroke-width="1.25"/>
<line x1="48.50" y1="435.56" x2="51.10" y2="435.56" stroke="#000" stroke-width="1.25"/>
<line x1="48.50" y1="438.38" x2="51.10" y2="438.38" stroke="#000" stroke-width="1.25"/>
<line x1="46.90" y1="441.20" x2="51.10" y2="441.20" stroke="#000" stroke-width="1.25"/>
<line x1="48.50" y1="444.02" x2="51.10" y2="444.02" stroke="#000" stroke-width="1.25"/>
<line x1="48.50" y1="446.84" x2="51.10" y2="446.84" stroke="#000" stroke-width="1.25"/>
<line x1="48.50" y1="449.66" x2="51.10" y2="449.66" stroke="#000" stroke-width="1.25"/>
<line x1="48.50" y1="452.48" x2="51.10" y2="452.48" stroke="#000" stroke-width="1.25"/>
<line x1="46.90" y1="455.30" x2="51.10" y2="455.30" stroke="#000" stroke-width="1.25"/>
<line x1="48.50" y1="458.12" x2="51.10" y2="458.12" stroke="#000" stroke-width="1.25"/>
<line x1="48.50" y1="460.94" x2="51.10" y2="460.94" stroke="#000" stroke-width="1.25"/>
<line x1="48.50" y1="463.76" x2="51.10" y2="463.76" stroke="#000" stroke-width="1.25"/>
<line x1="48.50" y1="466.58" x2="51.10" y2="466.58" stroke="#000" stroke-width="1.25"/>
<line x1="46.90" y1="469.40" x2="51.10" y2="469.40" stroke="#000" stroke-width="1.25"/>
<line x1="51.30" y1="470.30" x2="51.30" y2="474.50" stroke="#000" stroke-width="1.25"/>
<line x1="53.78" y1="470.30" x2="53.78" y2="472.50" stroke="#000" stroke-width="1.25"/>
<line x1="56.26" y1="470.30" x2="56.26" y2="472.50" stroke="#000" stroke-width="1.25"/>
<line x1="58.74" y1="470.30" x2="58.74" y2="472.50" stroke="#000" stroke-width="1.25"/>
<line x1="61.22" y1="470.30" x2="61.22" y2="474.50" stroke="#000" stroke-width="1.25"/>
<line x1="63.70" y1="470.30" x2="63.70" y2="472.50" stroke="#000" stroke-width="1.25"/>
<line x1="66.18" y1="470.30" x2="66.18" y2="472.50" stroke="#000" stroke-width="1.25"/>
<line x1="68.66" y1="470.30" x2="68.66" y2="472.50" stroke="#000" stroke-width="1.25"/>
<line x1="71.14" y1="470.30" x2="71.14" y2="474.50" stroke="#000" stroke-width="1.25"/>
<line x1="73.62" y1="470.30" x2="73.62" y2="472.50" stroke="#000" stroke-width="1.25"/>
<line x1="76.10" y1="470.30" x2="76.10" y2="472.50" stroke="#000" stroke-width="1.25"/>
<line x1="78.58" y1="470.30" x2="78.58" y2="472.50" stroke="#000" stroke-width="1.25"/>
<line x1="81.06" y1="470.30" x2="81.06" y2="474.50" stroke="#000" stroke-width="1.25"/>
<line x1="83.54" y1="470.30" x2="83.54" y2="472.50" stroke="#000" stroke-width="1.25"/>
<line x1="86.02" y1="470.30" x2="86.02" y2="472.50" stroke="#000" stroke-width="1.25"/>
<line x1="88.50" y1="470.30" x2="88.50" y2="472.50" stroke="#000" stroke-width="1.25"/>
<line x1="90.98" y1="470.30" x2="90.98" y2="474.50" stroke="#000" stroke-width="1.25"/>
<line x1="93.46" y1="470.30" x2="93.46" y2="472.50" stroke="#000" stroke-width="1.25"/>
<line x1="95.94" y1="470.30" x2="95.94" y2="472.50" stroke="#000" stroke-width="1.25"/>
<line x1="98.42" y1="470.30" x2="98.42" y2="472.50" stroke="#000" stroke-width="1.25"/>
<line x1="100.90" y1="470.30" x2="100.90" y2="474.50" stroke="#000" stroke-width="1.25"/>
<line x1="103.38" y1="470.30" x2="103.38" y2="472.50" stroke="#000" stroke-width="1.25"/>
<line x1="105.86" y1="470.30" x2="105.86" y2="472.50" stroke="#000" stroke-width="1.25"/>
<line x1="108.34" y1="470.30" x2="108.34" y2="472.50" stroke="#000" stroke-width="1.25"/>
<line x1="110.82" y1="470.30" x2="110.82" y2="474.50" stroke="#000" stroke-width="1.25"/>
<line x1="113.30" y1="470.30" x2="113.30" y2="472.50" stroke="#000" stroke-width="1.25"/>
<line x1="115.78" y1="470.30" x2="115.78" y2="472.50" stroke="#000" stroke-width="1.25"/>
<line x1="118.26" y1="470.30" x2="118.26" y2="472.50" stroke="#000" stroke-width="1.25"/>
<line x1="120.74" y1="470.30" x2="120.74" y2="474.50" stroke="#000" stroke-width="1.25"/>
<line x1="123.22" y1="470.30" x2="123.22" y2="472.50" stroke="#000" stroke-width="1.25"/>
<text x="120.30" y="406.40" font-size="10.3" text-anchor="end" textLength="19.60" lengthAdjust="spacingAndGlyphs">0.71</text>
<path d="M147.50 469.40 C148.33 469.07 150.70 468.33 152.50 467.40 C154.30 466.47 156.37 465.60 158.30 463.80 C160.23 462.00 162.53 459.48 164.10 456.60 C165.67 453.72 166.62 450.60 167.70 446.50 C168.78 442.40 169.77 436.82 170.60 432.00 C171.43 427.18 172.00 421.77 172.70 417.60 C173.40 413.43 174.20 409.63 174.80 407.00 C175.40 404.37 175.77 401.80 176.30 401.80 C176.83 401.80 177.58 404.37 178.00 407.00 C178.42 409.63 178.48 412.22 178.80 417.60 C179.12 422.98 179.42 432.80 179.90 439.30 C180.38 445.80 181.02 452.03 181.70 456.60 C182.38 461.17 183.52 464.67 184.00 466.70 C184.48 468.73 184.40 468.35 184.60 468.80 C184.80 469.25 185.10 469.30 185.20 469.40 Z" fill="#c8001e"/>
<path d="M141.20 469.20 C141.43 469.20 141.53 469.20 142.60 469.20 C143.67 469.20 145.08 469.40 147.60 469.20 C150.12 469.00 154.93 468.80 157.70 468.00 C160.47 467.20 162.40 466.20 164.20 464.40 C166.00 462.60 167.18 460.08 168.50 457.20 C169.82 454.32 170.97 451.20 172.10 447.10 C173.23 443.00 174.30 437.42 175.30 432.60 C176.30 427.78 177.38 422.20 178.10 418.20 C178.82 414.20 179.25 411.20 179.60 408.60 C179.95 406.00 179.95 402.70 180.20 402.60 C180.45 402.50 180.77 405.50 181.10 408.00 C181.43 410.50 181.82 413.60 182.20 417.60 C182.58 421.60 183.03 427.18 183.40 432.00 C183.77 436.82 184.10 442.40 184.40 446.50 C184.70 450.60 184.88 453.48 185.20 456.60 C185.52 459.72 185.88 463.17 186.30 465.20 C186.72 467.23 187.27 468.13 187.70 468.80 C188.13 469.47 184.42 469.13 188.90 469.20 C193.38 469.27 210.32 469.20 214.60 469.20" fill="none" stroke="#1a3fc0" stroke-width="2.2" stroke-linejoin="round"/>
<rect x="140.20" y="395.20" width="75.40" height="75.10" fill="none" stroke="#000" stroke-width="1.9"/>
<line x1="136.00" y1="398.90" x2="140.20" y2="398.90" stroke="#000" stroke-width="1.25"/>
<line x1="137.60" y1="401.72" x2="140.20" y2="401.72" stroke="#000" stroke-width="1.25"/>
<line x1="137.60" y1="404.54" x2="140.20" y2="404.54" stroke="#000" stroke-width="1.25"/>
<line x1="137.60" y1="407.36" x2="140.20" y2="407.36" stroke="#000" stroke-width="1.25"/>
<line x1="137.60" y1="410.18" x2="140.20" y2="410.18" stroke="#000" stroke-width="1.25"/>
<line x1="136.00" y1="413.00" x2="140.20" y2="413.00" stroke="#000" stroke-width="1.25"/>
<line x1="137.60" y1="415.82" x2="140.20" y2="415.82" stroke="#000" stroke-width="1.25"/>
<line x1="137.60" y1="418.64" x2="140.20" y2="418.64" stroke="#000" stroke-width="1.25"/>
<line x1="137.60" y1="421.46" x2="140.20" y2="421.46" stroke="#000" stroke-width="1.25"/>
<line x1="137.60" y1="424.28" x2="140.20" y2="424.28" stroke="#000" stroke-width="1.25"/>
<line x1="136.00" y1="427.10" x2="140.20" y2="427.10" stroke="#000" stroke-width="1.25"/>
<line x1="137.60" y1="429.92" x2="140.20" y2="429.92" stroke="#000" stroke-width="1.25"/>
<line x1="137.60" y1="432.74" x2="140.20" y2="432.74" stroke="#000" stroke-width="1.25"/>
<line x1="137.60" y1="435.56" x2="140.20" y2="435.56" stroke="#000" stroke-width="1.25"/>
<line x1="137.60" y1="438.38" x2="140.20" y2="438.38" stroke="#000" stroke-width="1.25"/>
<line x1="136.00" y1="441.20" x2="140.20" y2="441.20" stroke="#000" stroke-width="1.25"/>
<line x1="137.60" y1="444.02" x2="140.20" y2="444.02" stroke="#000" stroke-width="1.25"/>
<line x1="137.60" y1="446.84" x2="140.20" y2="446.84" stroke="#000" stroke-width="1.25"/>
<line x1="137.60" y1="449.66" x2="140.20" y2="449.66" stroke="#000" stroke-width="1.25"/>
<line x1="137.60" y1="452.48" x2="140.20" y2="452.48" stroke="#000" stroke-width="1.25"/>
<line x1="136.00" y1="455.30" x2="140.20" y2="455.30" stroke="#000" stroke-width="1.25"/>
<line x1="137.60" y1="458.12" x2="140.20" y2="458.12" stroke="#000" stroke-width="1.25"/>
<line x1="137.60" y1="460.94" x2="140.20" y2="460.94" stroke="#000" stroke-width="1.25"/>
<line x1="137.60" y1="463.76" x2="140.20" y2="463.76" stroke="#000" stroke-width="1.25"/>
<line x1="137.60" y1="466.58" x2="140.20" y2="466.58" stroke="#000" stroke-width="1.25"/>
<line x1="136.00" y1="469.40" x2="140.20" y2="469.40" stroke="#000" stroke-width="1.25"/>
<line x1="140.40" y1="470.30" x2="140.40" y2="474.50" stroke="#000" stroke-width="1.25"/>
<line x1="142.88" y1="470.30" x2="142.88" y2="472.50" stroke="#000" stroke-width="1.25"/>
<line x1="145.36" y1="470.30" x2="145.36" y2="472.50" stroke="#000" stroke-width="1.25"/>
<line x1="147.84" y1="470.30" x2="147.84" y2="472.50" stroke="#000" stroke-width="1.25"/>
<line x1="150.32" y1="470.30" x2="150.32" y2="474.50" stroke="#000" stroke-width="1.25"/>
<line x1="152.80" y1="470.30" x2="152.80" y2="472.50" stroke="#000" stroke-width="1.25"/>
<line x1="155.28" y1="470.30" x2="155.28" y2="472.50" stroke="#000" stroke-width="1.25"/>
<line x1="157.76" y1="470.30" x2="157.76" y2="472.50" stroke="#000" stroke-width="1.25"/>
<line x1="160.24" y1="470.30" x2="160.24" y2="474.50" stroke="#000" stroke-width="1.25"/>
<line x1="162.72" y1="470.30" x2="162.72" y2="472.50" stroke="#000" stroke-width="1.25"/>
<line x1="165.20" y1="470.30" x2="165.20" y2="472.50" stroke="#000" stroke-width="1.25"/>
<line x1="167.68" y1="470.30" x2="167.68" y2="472.50" stroke="#000" stroke-width="1.25"/>
<line x1="170.16" y1="470.30" x2="170.16" y2="474.50" stroke="#000" stroke-width="1.25"/>
<line x1="172.64" y1="470.30" x2="172.64" y2="472.50" stroke="#000" stroke-width="1.25"/>
<line x1="175.12" y1="470.30" x2="175.12" y2="472.50" stroke="#000" stroke-width="1.25"/>
<line x1="177.60" y1="470.30" x2="177.60" y2="472.50" stroke="#000" stroke-width="1.25"/>
<line x1="180.08" y1="470.30" x2="180.08" y2="474.50" stroke="#000" stroke-width="1.25"/>
<line x1="182.56" y1="470.30" x2="182.56" y2="472.50" stroke="#000" stroke-width="1.25"/>
<line x1="185.04" y1="470.30" x2="185.04" y2="472.50" stroke="#000" stroke-width="1.25"/>
<line x1="187.52" y1="470.30" x2="187.52" y2="472.50" stroke="#000" stroke-width="1.25"/>
<line x1="190.00" y1="470.30" x2="190.00" y2="474.50" stroke="#000" stroke-width="1.25"/>
<line x1="192.48" y1="470.30" x2="192.48" y2="472.50" stroke="#000" stroke-width="1.25"/>
<line x1="194.96" y1="470.30" x2="194.96" y2="472.50" stroke="#000" stroke-width="1.25"/>
<line x1="197.44" y1="470.30" x2="197.44" y2="472.50" stroke="#000" stroke-width="1.25"/>
<line x1="199.92" y1="470.30" x2="199.92" y2="474.50" stroke="#000" stroke-width="1.25"/>
<line x1="202.40" y1="470.30" x2="202.40" y2="472.50" stroke="#000" stroke-width="1.25"/>
<line x1="204.88" y1="470.30" x2="204.88" y2="472.50" stroke="#000" stroke-width="1.25"/>
<line x1="207.36" y1="470.30" x2="207.36" y2="472.50" stroke="#000" stroke-width="1.25"/>
<line x1="209.84" y1="470.30" x2="209.84" y2="474.50" stroke="#000" stroke-width="1.25"/>
<line x1="212.32" y1="470.30" x2="212.32" y2="472.50" stroke="#000" stroke-width="1.25"/>
<line x1="214.80" y1="470.30" x2="214.80" y2="472.50" stroke="#000" stroke-width="1.25"/>
<text x="211.40" y="406.40" font-size="10.3" text-anchor="end" textLength="19.60" lengthAdjust="spacingAndGlyphs">0.53</text>
<path d="M237.50 469.40 C238.33 468.95 240.58 467.88 242.50 466.70 C244.42 465.52 246.95 464.47 249.00 462.30 C251.05 460.13 253.12 457.53 254.80 453.70 C256.48 449.87 257.97 444.12 259.10 439.30 C260.23 434.48 260.80 429.62 261.60 424.80 C262.40 419.98 263.12 414.67 263.90 410.40 C264.68 406.13 265.65 399.20 266.30 399.20 C266.95 399.20 267.18 403.72 267.80 410.40 C268.42 417.08 269.40 431.60 270.00 439.30 C270.60 447.00 270.93 451.82 271.40 456.60 C271.87 461.38 272.47 465.87 272.80 468.00 C273.13 470.13 273.30 469.17 273.40 469.40 Z" fill="#c8001e"/>
<path d="M231.50 469.20 C231.43 469.20 230.33 469.22 231.10 469.20 C231.87 469.18 233.82 469.42 236.10 469.10 C238.38 468.78 242.15 468.33 244.80 467.30 C247.45 466.27 249.97 465.07 252.00 462.90 C254.03 460.73 255.43 458.13 257.00 454.30 C258.57 450.47 260.12 444.72 261.40 439.90 C262.68 435.08 263.75 430.22 264.70 425.40 C265.65 420.58 266.40 415.35 267.10 411.00 C267.80 406.65 268.33 399.40 268.90 399.30 C269.47 399.20 270.07 406.15 270.50 410.40 C270.93 414.65 271.18 419.98 271.50 424.80 C271.82 429.62 272.08 434.48 272.40 439.30 C272.72 444.12 273.12 449.87 273.40 453.70 C273.68 457.53 273.67 459.83 274.10 462.30 C274.53 464.77 275.48 467.35 276.00 468.50 C276.52 469.65 272.50 469.08 277.20 469.20 C281.90 469.32 299.70 469.20 304.20 469.20" fill="none" stroke="#1a3fc0" stroke-width="2.2" stroke-linejoin="round"/>
<rect x="230.50" y="395.20" width="74.70" height="75.10" fill="none" stroke="#000" stroke-width="1.9"/>
<line x1="226.30" y1="398.90" x2="230.50" y2="398.90" stroke="#000" stroke-width="1.25"/>
<line x1="227.90" y1="401.72" x2="230.50" y2="401.72" stroke="#000" stroke-width="1.25"/>
<line x1="227.90" y1="404.54" x2="230.50" y2="404.54" stroke="#000" stroke-width="1.25"/>
<line x1="227.90" y1="407.36" x2="230.50" y2="407.36" stroke="#000" stroke-width="1.25"/>
<line x1="227.90" y1="410.18" x2="230.50" y2="410.18" stroke="#000" stroke-width="1.25"/>
<line x1="226.30" y1="413.00" x2="230.50" y2="413.00" stroke="#000" stroke-width="1.25"/>
<line x1="227.90" y1="415.82" x2="230.50" y2="415.82" stroke="#000" stroke-width="1.25"/>
<line x1="227.90" y1="418.64" x2="230.50" y2="418.64" stroke="#000" stroke-width="1.25"/>
<line x1="227.90" y1="421.46" x2="230.50" y2="421.46" stroke="#000" stroke-width="1.25"/>
<line x1="227.90" y1="424.28" x2="230.50" y2="424.28" stroke="#000" stroke-width="1.25"/>
<line x1="226.30" y1="427.10" x2="230.50" y2="427.10" stroke="#000" stroke-width="1.25"/>
<line x1="227.90" y1="429.92" x2="230.50" y2="429.92" stroke="#000" stroke-width="1.25"/>
<line x1="227.90" y1="432.74" x2="230.50" y2="432.74" stroke="#000" stroke-width="1.25"/>
<line x1="227.90" y1="435.56" x2="230.50" y2="435.56" stroke="#000" stroke-width="1.25"/>
<line x1="227.90" y1="438.38" x2="230.50" y2="438.38" stroke="#000" stroke-width="1.25"/>
<line x1="226.30" y1="441.20" x2="230.50" y2="441.20" stroke="#000" stroke-width="1.25"/>
<line x1="227.90" y1="444.02" x2="230.50" y2="444.02" stroke="#000" stroke-width="1.25"/>
<line x1="227.90" y1="446.84" x2="230.50" y2="446.84" stroke="#000" stroke-width="1.25"/>
<line x1="227.90" y1="449.66" x2="230.50" y2="449.66" stroke="#000" stroke-width="1.25"/>
<line x1="227.90" y1="452.48" x2="230.50" y2="452.48" stroke="#000" stroke-width="1.25"/>
<line x1="226.30" y1="455.30" x2="230.50" y2="455.30" stroke="#000" stroke-width="1.25"/>
<line x1="227.90" y1="458.12" x2="230.50" y2="458.12" stroke="#000" stroke-width="1.25"/>
<line x1="227.90" y1="460.94" x2="230.50" y2="460.94" stroke="#000" stroke-width="1.25"/>
<line x1="227.90" y1="463.76" x2="230.50" y2="463.76" stroke="#000" stroke-width="1.25"/>
<line x1="227.90" y1="466.58" x2="230.50" y2="466.58" stroke="#000" stroke-width="1.25"/>
<line x1="226.30" y1="469.40" x2="230.50" y2="469.40" stroke="#000" stroke-width="1.25"/>
<line x1="230.70" y1="470.30" x2="230.70" y2="474.50" stroke="#000" stroke-width="1.25"/>
<line x1="233.18" y1="470.30" x2="233.18" y2="472.50" stroke="#000" stroke-width="1.25"/>
<line x1="235.66" y1="470.30" x2="235.66" y2="472.50" stroke="#000" stroke-width="1.25"/>
<line x1="238.14" y1="470.30" x2="238.14" y2="472.50" stroke="#000" stroke-width="1.25"/>
<line x1="240.62" y1="470.30" x2="240.62" y2="474.50" stroke="#000" stroke-width="1.25"/>
<line x1="243.10" y1="470.30" x2="243.10" y2="472.50" stroke="#000" stroke-width="1.25"/>
<line x1="245.58" y1="470.30" x2="245.58" y2="472.50" stroke="#000" stroke-width="1.25"/>
<line x1="248.06" y1="470.30" x2="248.06" y2="472.50" stroke="#000" stroke-width="1.25"/>
<line x1="250.54" y1="470.30" x2="250.54" y2="474.50" stroke="#000" stroke-width="1.25"/>
<line x1="253.02" y1="470.30" x2="253.02" y2="472.50" stroke="#000" stroke-width="1.25"/>
<line x1="255.50" y1="470.30" x2="255.50" y2="472.50" stroke="#000" stroke-width="1.25"/>
<line x1="257.98" y1="470.30" x2="257.98" y2="472.50" stroke="#000" stroke-width="1.25"/>
<line x1="260.46" y1="470.30" x2="260.46" y2="474.50" stroke="#000" stroke-width="1.25"/>
<line x1="262.94" y1="470.30" x2="262.94" y2="472.50" stroke="#000" stroke-width="1.25"/>
<line x1="265.42" y1="470.30" x2="265.42" y2="472.50" stroke="#000" stroke-width="1.25"/>
<line x1="267.90" y1="470.30" x2="267.90" y2="472.50" stroke="#000" stroke-width="1.25"/>
<line x1="270.38" y1="470.30" x2="270.38" y2="474.50" stroke="#000" stroke-width="1.25"/>
<line x1="272.86" y1="470.30" x2="272.86" y2="472.50" stroke="#000" stroke-width="1.25"/>
<line x1="275.34" y1="470.30" x2="275.34" y2="472.50" stroke="#000" stroke-width="1.25"/>
<line x1="277.82" y1="470.30" x2="277.82" y2="472.50" stroke="#000" stroke-width="1.25"/>
<line x1="280.30" y1="470.30" x2="280.30" y2="474.50" stroke="#000" stroke-width="1.25"/>
<line x1="282.78" y1="470.30" x2="282.78" y2="472.50" stroke="#000" stroke-width="1.25"/>
<line x1="285.26" y1="470.30" x2="285.26" y2="472.50" stroke="#000" stroke-width="1.25"/>
<line x1="287.74" y1="470.30" x2="287.74" y2="472.50" stroke="#000" stroke-width="1.25"/>
<line x1="290.22" y1="470.30" x2="290.22" y2="474.50" stroke="#000" stroke-width="1.25"/>
<line x1="292.70" y1="470.30" x2="292.70" y2="472.50" stroke="#000" stroke-width="1.25"/>
<line x1="295.18" y1="470.30" x2="295.18" y2="472.50" stroke="#000" stroke-width="1.25"/>
<line x1="297.66" y1="470.30" x2="297.66" y2="472.50" stroke="#000" stroke-width="1.25"/>
<line x1="300.14" y1="470.30" x2="300.14" y2="474.50" stroke="#000" stroke-width="1.25"/>
<line x1="302.62" y1="470.30" x2="302.62" y2="472.50" stroke="#000" stroke-width="1.25"/>
<line x1="305.10" y1="470.30" x2="305.10" y2="472.50" stroke="#000" stroke-width="1.25"/>
<text x="301.00" y="406.40" font-size="10.3" text-anchor="end" textLength="19.60" lengthAdjust="spacingAndGlyphs">0.67</text>
<path d="M325.00 469.40 C325.83 469.17 328.00 468.93 330.00 468.00 C332.00 467.07 335.12 465.47 337.00 463.80 C338.88 462.13 339.87 460.88 341.30 458.00 C342.73 455.12 344.40 450.83 345.60 446.50 C346.80 442.17 347.53 436.82 348.50 432.00 C349.47 427.18 350.65 421.60 351.40 417.60 C352.15 413.60 352.53 410.15 353.00 408.00 C353.47 405.85 353.78 404.70 354.20 404.70 C354.62 404.70 355.03 405.85 355.50 408.00 C355.97 410.15 356.52 413.60 357.00 417.60 C357.48 421.60 357.98 427.18 358.40 432.00 C358.82 436.82 359.15 442.17 359.50 446.50 C359.85 450.83 360.17 454.58 360.50 458.00 C360.83 461.42 361.23 465.10 361.50 467.00 C361.77 468.90 362.00 469.00 362.10 469.40 Z" fill="#c8001e"/>
<path d="M322.00 469.20 C322.82 469.20 325.25 469.37 326.90 469.20 C328.55 469.03 329.98 469.00 331.90 468.20 C333.82 467.40 336.60 466.00 338.40 464.40 C340.20 462.80 341.27 461.48 342.70 458.60 C344.13 455.72 345.80 451.43 347.00 447.10 C348.20 442.77 348.93 437.42 349.90 432.60 C350.87 427.78 351.98 421.62 352.80 418.20 C353.62 414.78 354.33 413.22 354.80 412.10 C355.27 410.98 355.35 411.52 355.60 411.50 C355.85 411.48 356.02 410.98 356.30 412.00 C356.58 413.02 356.88 414.27 357.30 417.60 C357.72 420.93 358.38 427.18 358.80 432.00 C359.22 436.82 359.47 442.17 359.80 446.50 C360.13 450.83 360.40 454.55 360.80 458.00 C361.20 461.45 361.77 465.33 362.20 467.20 C362.63 469.07 358.10 468.87 363.40 469.20 C368.70 469.53 388.90 469.20 394.00 469.20" fill="none" stroke="#1a3fc0" stroke-width="2.2" stroke-linejoin="round"/>
<rect x="321.00" y="395.20" width="74.00" height="75.10" fill="none" stroke="#000" stroke-width="1.9"/>
<line x1="316.80" y1="398.90" x2="321.00" y2="398.90" stroke="#000" stroke-width="1.25"/>
<line x1="318.40" y1="401.72" x2="321.00" y2="401.72" stroke="#000" stroke-width="1.25"/>
<line x1="318.40" y1="404.54" x2="321.00" y2="404.54" stroke="#000" stroke-width="1.25"/>
<line x1="318.40" y1="407.36" x2="321.00" y2="407.36" stroke="#000" stroke-width="1.25"/>
<line x1="318.40" y1="410.18" x2="321.00" y2="410.18" stroke="#000" stroke-width="1.25"/>
<line x1="316.80" y1="413.00" x2="321.00" y2="413.00" stroke="#000" stroke-width="1.25"/>
<line x1="318.40" y1="415.82" x2="321.00" y2="415.82" stroke="#000" stroke-width="1.25"/>
<line x1="318.40" y1="418.64" x2="321.00" y2="418.64" stroke="#000" stroke-width="1.25"/>
<line x1="318.40" y1="421.46" x2="321.00" y2="421.46" stroke="#000" stroke-width="1.25"/>
<line x1="318.40" y1="424.28" x2="321.00" y2="424.28" stroke="#000" stroke-width="1.25"/>
<line x1="316.80" y1="427.10" x2="321.00" y2="427.10" stroke="#000" stroke-width="1.25"/>
<line x1="318.40" y1="429.92" x2="321.00" y2="429.92" stroke="#000" stroke-width="1.25"/>
<line x1="318.40" y1="432.74" x2="321.00" y2="432.74" stroke="#000" stroke-width="1.25"/>
<line x1="318.40" y1="435.56" x2="321.00" y2="435.56" stroke="#000" stroke-width="1.25"/>
<line x1="318.40" y1="438.38" x2="321.00" y2="438.38" stroke="#000" stroke-width="1.25"/>
<line x1="316.80" y1="441.20" x2="321.00" y2="441.20" stroke="#000" stroke-width="1.25"/>
<line x1="318.40" y1="444.02" x2="321.00" y2="444.02" stroke="#000" stroke-width="1.25"/>
<line x1="318.40" y1="446.84" x2="321.00" y2="446.84" stroke="#000" stroke-width="1.25"/>
<line x1="318.40" y1="449.66" x2="321.00" y2="449.66" stroke="#000" stroke-width="1.25"/>
<line x1="318.40" y1="452.48" x2="321.00" y2="452.48" stroke="#000" stroke-width="1.25"/>
<line x1="316.80" y1="455.30" x2="321.00" y2="455.30" stroke="#000" stroke-width="1.25"/>
<line x1="318.40" y1="458.12" x2="321.00" y2="458.12" stroke="#000" stroke-width="1.25"/>
<line x1="318.40" y1="460.94" x2="321.00" y2="460.94" stroke="#000" stroke-width="1.25"/>
<line x1="318.40" y1="463.76" x2="321.00" y2="463.76" stroke="#000" stroke-width="1.25"/>
<line x1="318.40" y1="466.58" x2="321.00" y2="466.58" stroke="#000" stroke-width="1.25"/>
<line x1="316.80" y1="469.40" x2="321.00" y2="469.40" stroke="#000" stroke-width="1.25"/>
<line x1="321.20" y1="470.30" x2="321.20" y2="474.50" stroke="#000" stroke-width="1.25"/>
<line x1="323.68" y1="470.30" x2="323.68" y2="472.50" stroke="#000" stroke-width="1.25"/>
<line x1="326.16" y1="470.30" x2="326.16" y2="472.50" stroke="#000" stroke-width="1.25"/>
<line x1="328.64" y1="470.30" x2="328.64" y2="472.50" stroke="#000" stroke-width="1.25"/>
<line x1="331.12" y1="470.30" x2="331.12" y2="474.50" stroke="#000" stroke-width="1.25"/>
<line x1="333.60" y1="470.30" x2="333.60" y2="472.50" stroke="#000" stroke-width="1.25"/>
<line x1="336.08" y1="470.30" x2="336.08" y2="472.50" stroke="#000" stroke-width="1.25"/>
<line x1="338.56" y1="470.30" x2="338.56" y2="472.50" stroke="#000" stroke-width="1.25"/>
<line x1="341.04" y1="470.30" x2="341.04" y2="474.50" stroke="#000" stroke-width="1.25"/>
<line x1="343.52" y1="470.30" x2="343.52" y2="472.50" stroke="#000" stroke-width="1.25"/>
<line x1="346.00" y1="470.30" x2="346.00" y2="472.50" stroke="#000" stroke-width="1.25"/>
<line x1="348.48" y1="470.30" x2="348.48" y2="472.50" stroke="#000" stroke-width="1.25"/>
<line x1="350.96" y1="470.30" x2="350.96" y2="474.50" stroke="#000" stroke-width="1.25"/>
<line x1="353.44" y1="470.30" x2="353.44" y2="472.50" stroke="#000" stroke-width="1.25"/>
<line x1="355.92" y1="470.30" x2="355.92" y2="472.50" stroke="#000" stroke-width="1.25"/>
<line x1="358.40" y1="470.30" x2="358.40" y2="472.50" stroke="#000" stroke-width="1.25"/>
<line x1="360.88" y1="470.30" x2="360.88" y2="474.50" stroke="#000" stroke-width="1.25"/>
<line x1="363.36" y1="470.30" x2="363.36" y2="472.50" stroke="#000" stroke-width="1.25"/>
<line x1="365.84" y1="470.30" x2="365.84" y2="472.50" stroke="#000" stroke-width="1.25"/>
<line x1="368.32" y1="470.30" x2="368.32" y2="472.50" stroke="#000" stroke-width="1.25"/>
<line x1="370.80" y1="470.30" x2="370.80" y2="474.50" stroke="#000" stroke-width="1.25"/>
<line x1="373.28" y1="470.30" x2="373.28" y2="472.50" stroke="#000" stroke-width="1.25"/>
<line x1="375.76" y1="470.30" x2="375.76" y2="472.50" stroke="#000" stroke-width="1.25"/>
<line x1="378.24" y1="470.30" x2="378.24" y2="472.50" stroke="#000" stroke-width="1.25"/>
<line x1="380.72" y1="470.30" x2="380.72" y2="474.50" stroke="#000" stroke-width="1.25"/>
<line x1="383.20" y1="470.30" x2="383.20" y2="472.50" stroke="#000" stroke-width="1.25"/>
<line x1="385.68" y1="470.30" x2="385.68" y2="472.50" stroke="#000" stroke-width="1.25"/>
<line x1="388.16" y1="470.30" x2="388.16" y2="472.50" stroke="#000" stroke-width="1.25"/>
<line x1="390.64" y1="470.30" x2="390.64" y2="474.50" stroke="#000" stroke-width="1.25"/>
<line x1="393.12" y1="470.30" x2="393.12" y2="472.50" stroke="#000" stroke-width="1.25"/>
<text x="390.80" y="406.40" font-size="10.3" text-anchor="end" textLength="19.60" lengthAdjust="spacingAndGlyphs">0.92</text>
<path d="M414.10 469.40 C414.93 469.07 417.18 468.33 419.10 467.40 C421.02 466.47 423.80 465.37 425.60 463.80 C427.40 462.23 428.58 460.88 429.90 458.00 C431.22 455.12 432.30 450.83 433.50 446.50 C434.70 442.17 436.02 436.82 437.10 432.00 C438.18 427.18 439.22 421.27 440.00 417.60 C440.78 413.93 441.27 411.77 441.80 410.00 C442.33 408.23 442.73 407.00 443.20 407.00 C443.67 407.00 444.13 408.23 444.60 410.00 C445.07 411.77 445.60 413.93 446.00 417.60 C446.40 421.27 446.67 427.18 447.00 432.00 C447.33 436.82 447.63 442.17 448.00 446.50 C448.37 450.83 448.77 454.55 449.20 458.00 C449.63 461.45 450.27 465.30 450.60 467.20 C450.93 469.10 451.10 469.03 451.20 469.40 Z" fill="#c8001e"/>
<path d="M409.50 469.20 C410.40 469.20 413.17 469.40 414.90 469.20 C416.63 469.00 417.98 468.80 419.90 468.00 C421.82 467.20 424.60 465.97 426.40 464.40 C428.20 462.83 429.38 461.48 430.70 458.60 C432.02 455.72 433.10 451.43 434.30 447.10 C435.50 442.77 436.82 437.42 437.90 432.60 C438.98 427.78 440.02 421.87 440.80 418.20 C441.58 414.53 442.20 412.32 442.60 410.60 C443.00 408.88 443.02 408.00 443.20 407.90 C443.38 407.80 443.35 408.38 443.70 410.00 C444.05 411.62 444.87 413.93 445.30 417.60 C445.73 421.27 445.97 427.18 446.30 432.00 C446.63 436.82 446.93 442.17 447.30 446.50 C447.67 450.83 448.07 454.55 448.50 458.00 C448.93 461.45 449.47 465.33 449.90 467.20 C450.33 469.07 445.78 468.87 451.10 469.20 C456.42 469.53 476.68 469.20 481.80 469.20" fill="none" stroke="#1a3fc0" stroke-width="2.2" stroke-linejoin="round"/>
<rect x="408.50" y="395.20" width="74.30" height="75.10" fill="none" stroke="#000" stroke-width="1.9"/>
<line x1="404.30" y1="398.90" x2="408.50" y2="398.90" stroke="#000" stroke-width="1.25"/>
<line x1="405.90" y1="401.72" x2="408.50" y2="401.72" stroke="#000" stroke-width="1.25"/>
<line x1="405.90" y1="404.54" x2="408.50" y2="404.54" stroke="#000" stroke-width="1.25"/>
<line x1="405.90" y1="407.36" x2="408.50" y2="407.36" stroke="#000" stroke-width="1.25"/>
<line x1="405.90" y1="410.18" x2="408.50" y2="410.18" stroke="#000" stroke-width="1.25"/>
<line x1="404.30" y1="413.00" x2="408.50" y2="413.00" stroke="#000" stroke-width="1.25"/>
<line x1="405.90" y1="415.82" x2="408.50" y2="415.82" stroke="#000" stroke-width="1.25"/>
<line x1="405.90" y1="418.64" x2="408.50" y2="418.64" stroke="#000" stroke-width="1.25"/>
<line x1="405.90" y1="421.46" x2="408.50" y2="421.46" stroke="#000" stroke-width="1.25"/>
<line x1="405.90" y1="424.28" x2="408.50" y2="424.28" stroke="#000" stroke-width="1.25"/>
<line x1="404.30" y1="427.10" x2="408.50" y2="427.10" stroke="#000" stroke-width="1.25"/>
<line x1="405.90" y1="429.92" x2="408.50" y2="429.92" stroke="#000" stroke-width="1.25"/>
<line x1="405.90" y1="432.74" x2="408.50" y2="432.74" stroke="#000" stroke-width="1.25"/>
<line x1="405.90" y1="435.56" x2="408.50" y2="435.56" stroke="#000" stroke-width="1.25"/>
<line x1="405.90" y1="438.38" x2="408.50" y2="438.38" stroke="#000" stroke-width="1.25"/>
<line x1="404.30" y1="441.20" x2="408.50" y2="441.20" stroke="#000" stroke-width="1.25"/>
<line x1="405.90" y1="444.02" x2="408.50" y2="444.02" stroke="#000" stroke-width="1.25"/>
<line x1="405.90" y1="446.84" x2="408.50" y2="446.84" stroke="#000" stroke-width="1.25"/>
<line x1="405.90" y1="449.66" x2="408.50" y2="449.66" stroke="#000" stroke-width="1.25"/>
<line x1="405.90" y1="452.48" x2="408.50" y2="452.48" stroke="#000" stroke-width="1.25"/>
<line x1="404.30" y1="455.30" x2="408.50" y2="455.30" stroke="#000" stroke-width="1.25"/>
<line x1="405.90" y1="458.12" x2="408.50" y2="458.12" stroke="#000" stroke-width="1.25"/>
<line x1="405.90" y1="460.94" x2="408.50" y2="460.94" stroke="#000" stroke-width="1.25"/>
<line x1="405.90" y1="463.76" x2="408.50" y2="463.76" stroke="#000" stroke-width="1.25"/>
<line x1="405.90" y1="466.58" x2="408.50" y2="466.58" stroke="#000" stroke-width="1.25"/>
<line x1="404.30" y1="469.40" x2="408.50" y2="469.40" stroke="#000" stroke-width="1.25"/>
<line x1="408.70" y1="470.30" x2="408.70" y2="474.50" stroke="#000" stroke-width="1.25"/>
<line x1="411.18" y1="470.30" x2="411.18" y2="472.50" stroke="#000" stroke-width="1.25"/>
<line x1="413.66" y1="470.30" x2="413.66" y2="472.50" stroke="#000" stroke-width="1.25"/>
<line x1="416.14" y1="470.30" x2="416.14" y2="472.50" stroke="#000" stroke-width="1.25"/>
<line x1="418.62" y1="470.30" x2="418.62" y2="474.50" stroke="#000" stroke-width="1.25"/>
<line x1="421.10" y1="470.30" x2="421.10" y2="472.50" stroke="#000" stroke-width="1.25"/>
<line x1="423.58" y1="470.30" x2="423.58" y2="472.50" stroke="#000" stroke-width="1.25"/>
<line x1="426.06" y1="470.30" x2="426.06" y2="472.50" stroke="#000" stroke-width="1.25"/>
<line x1="428.54" y1="470.30" x2="428.54" y2="474.50" stroke="#000" stroke-width="1.25"/>
<line x1="431.02" y1="470.30" x2="431.02" y2="472.50" stroke="#000" stroke-width="1.25"/>
<line x1="433.50" y1="470.30" x2="433.50" y2="472.50" stroke="#000" stroke-width="1.25"/>
<line x1="435.98" y1="470.30" x2="435.98" y2="472.50" stroke="#000" stroke-width="1.25"/>
<line x1="438.46" y1="470.30" x2="438.46" y2="474.50" stroke="#000" stroke-width="1.25"/>
<line x1="440.94" y1="470.30" x2="440.94" y2="472.50" stroke="#000" stroke-width="1.25"/>
<line x1="443.42" y1="470.30" x2="443.42" y2="472.50" stroke="#000" stroke-width="1.25"/>
<line x1="445.90" y1="470.30" x2="445.90" y2="472.50" stroke="#000" stroke-width="1.25"/>
<line x1="448.38" y1="470.30" x2="448.38" y2="474.50" stroke="#000" stroke-width="1.25"/>
<line x1="450.86" y1="470.30" x2="450.86" y2="472.50" stroke="#000" stroke-width="1.25"/>
<line x1="453.34" y1="470.30" x2="453.34" y2="472.50" stroke="#000" stroke-width="1.25"/>
<line x1="455.82" y1="470.30" x2="455.82" y2="472.50" stroke="#000" stroke-width="1.25"/>
<line x1="458.30" y1="470.30" x2="458.30" y2="474.50" stroke="#000" stroke-width="1.25"/>
<line x1="460.78" y1="470.30" x2="460.78" y2="472.50" stroke="#000" stroke-width="1.25"/>
<line x1="463.26" y1="470.30" x2="463.26" y2="472.50" stroke="#000" stroke-width="1.25"/>
<line x1="465.74" y1="470.30" x2="465.74" y2="472.50" stroke="#000" stroke-width="1.25"/>
<line x1="468.22" y1="470.30" x2="468.22" y2="474.50" stroke="#000" stroke-width="1.25"/>
<line x1="470.70" y1="470.30" x2="470.70" y2="472.50" stroke="#000" stroke-width="1.25"/>
<line x1="473.18" y1="470.30" x2="473.18" y2="472.50" stroke="#000" stroke-width="1.25"/>
<line x1="475.66" y1="470.30" x2="475.66" y2="472.50" stroke="#000" stroke-width="1.25"/>
<line x1="478.14" y1="470.30" x2="478.14" y2="474.50" stroke="#000" stroke-width="1.25"/>
<line x1="480.62" y1="470.30" x2="480.62" y2="472.50" stroke="#000" stroke-width="1.25"/>
<line x1="483.10" y1="470.30" x2="483.10" y2="472.50" stroke="#000" stroke-width="1.25"/>
<text x="478.60" y="406.40" font-size="10.3" text-anchor="end" textLength="19.60" lengthAdjust="spacingAndGlyphs">0.93</text>
<path d="M57.10 552.60 C57.93 552.23 60.28 551.62 62.10 550.40 C63.92 549.18 66.05 547.58 68.00 545.30 C69.95 543.02 72.00 540.53 73.80 536.70 C75.60 532.87 77.43 527.12 78.80 522.30 C80.17 517.48 80.97 512.62 82.00 507.80 C83.03 502.98 84.00 497.48 85.00 493.40 C86.00 489.32 87.23 483.30 88.00 483.30 C88.77 483.30 89.20 489.32 89.60 493.40 C90.00 497.48 90.08 502.98 90.40 507.80 C90.72 512.62 91.13 517.48 91.50 522.30 C91.87 527.12 92.18 531.92 92.60 536.70 C93.02 541.48 93.67 548.35 94.00 551.00 C94.33 553.65 94.50 552.33 94.60 552.60 Z" fill="#c8001e"/>
<path d="M52.20 552.40 C53.15 552.40 56.12 552.63 57.90 552.40 C59.68 552.17 60.75 552.08 62.90 551.00 C65.05 549.92 68.52 548.18 70.80 545.90 C73.08 543.62 74.80 541.13 76.60 537.30 C78.40 533.47 80.23 527.72 81.60 522.90 C82.97 518.08 83.83 513.22 84.80 508.40 C85.77 503.58 86.62 498.23 87.40 494.00 C88.18 489.77 88.87 483.10 89.50 483.00 C90.13 482.90 90.75 489.27 91.20 493.40 C91.65 497.53 91.87 502.98 92.20 507.80 C92.53 512.62 92.88 517.48 93.20 522.30 C93.52 527.12 93.78 532.67 94.10 536.70 C94.42 540.73 94.77 544.07 95.10 546.50 C95.43 548.93 95.73 550.32 96.10 551.30 C96.47 552.28 92.82 552.22 97.30 552.40 C101.78 552.58 118.72 552.40 123.00 552.40" fill="none" stroke="#1a3fc0" stroke-width="2.2" stroke-linejoin="round"/>
<rect x="51.20" y="479.40" width="72.80" height="74.10" fill="none" stroke="#000" stroke-width="1.9"/>
<line x1="47.00" y1="483.10" x2="51.20" y2="483.10" stroke="#000" stroke-width="1.25"/>
<line x1="48.60" y1="485.92" x2="51.20" y2="485.92" stroke="#000" stroke-width="1.25"/>
<line x1="48.60" y1="488.74" x2="51.20" y2="488.74" stroke="#000" stroke-width="1.25"/>
<line x1="48.60" y1="491.56" x2="51.20" y2="491.56" stroke="#000" stroke-width="1.25"/>
<line x1="48.60" y1="494.38" x2="51.20" y2="494.38" stroke="#000" stroke-width="1.25"/>
<line x1="47.00" y1="497.20" x2="51.20" y2="497.20" stroke="#000" stroke-width="1.25"/>
<line x1="48.60" y1="500.02" x2="51.20" y2="500.02" stroke="#000" stroke-width="1.25"/>
<line x1="48.60" y1="502.84" x2="51.20" y2="502.84" stroke="#000" stroke-width="1.25"/>
<line x1="48.60" y1="505.66" x2="51.20" y2="505.66" stroke="#000" stroke-width="1.25"/>
<line x1="48.60" y1="508.48" x2="51.20" y2="508.48" stroke="#000" stroke-width="1.25"/>
<line x1="47.00" y1="511.30" x2="51.20" y2="511.30" stroke="#000" stroke-width="1.25"/>
<line x1="48.60" y1="514.12" x2="51.20" y2="514.12" stroke="#000" stroke-width="1.25"/>
<line x1="48.60" y1="516.94" x2="51.20" y2="516.94" stroke="#000" stroke-width="1.25"/>
<line x1="48.60" y1="519.76" x2="51.20" y2="519.76" stroke="#000" stroke-width="1.25"/>
<line x1="48.60" y1="522.58" x2="51.20" y2="522.58" stroke="#000" stroke-width="1.25"/>
<line x1="47.00" y1="525.40" x2="51.20" y2="525.40" stroke="#000" stroke-width="1.25"/>
<line x1="48.60" y1="528.22" x2="51.20" y2="528.22" stroke="#000" stroke-width="1.25"/>
<line x1="48.60" y1="531.04" x2="51.20" y2="531.04" stroke="#000" stroke-width="1.25"/>
<line x1="48.60" y1="533.86" x2="51.20" y2="533.86" stroke="#000" stroke-width="1.25"/>
<line x1="48.60" y1="536.68" x2="51.20" y2="536.68" stroke="#000" stroke-width="1.25"/>
<line x1="47.00" y1="539.50" x2="51.20" y2="539.50" stroke="#000" stroke-width="1.25"/>
<line x1="48.60" y1="542.32" x2="51.20" y2="542.32" stroke="#000" stroke-width="1.25"/>
<line x1="48.60" y1="545.14" x2="51.20" y2="545.14" stroke="#000" stroke-width="1.25"/>
<line x1="48.60" y1="547.96" x2="51.20" y2="547.96" stroke="#000" stroke-width="1.25"/>
<line x1="48.60" y1="550.78" x2="51.20" y2="550.78" stroke="#000" stroke-width="1.25"/>
<line x1="47.00" y1="553.60" x2="51.20" y2="553.60" stroke="#000" stroke-width="1.25"/>
<line x1="51.40" y1="553.50" x2="51.40" y2="557.70" stroke="#000" stroke-width="1.25"/>
<line x1="53.88" y1="553.50" x2="53.88" y2="555.70" stroke="#000" stroke-width="1.25"/>
<line x1="56.36" y1="553.50" x2="56.36" y2="555.70" stroke="#000" stroke-width="1.25"/>
<line x1="58.84" y1="553.50" x2="58.84" y2="555.70" stroke="#000" stroke-width="1.25"/>
<line x1="61.32" y1="553.50" x2="61.32" y2="557.70" stroke="#000" stroke-width="1.25"/>
<line x1="63.80" y1="553.50" x2="63.80" y2="555.70" stroke="#000" stroke-width="1.25"/>
<line x1="66.28" y1="553.50" x2="66.28" y2="555.70" stroke="#000" stroke-width="1.25"/>
<line x1="68.76" y1="553.50" x2="68.76" y2="555.70" stroke="#000" stroke-width="1.25"/>
<line x1="71.24" y1="553.50" x2="71.24" y2="557.70" stroke="#000" stroke-width="1.25"/>
<line x1="73.72" y1="553.50" x2="73.72" y2="555.70" stroke="#000" stroke-width="1.25"/>
<line x1="76.20" y1="553.50" x2="76.20" y2="555.70" stroke="#000" stroke-width="1.25"/>
<line x1="78.68" y1="553.50" x2="78.68" y2="555.70" stroke="#000" stroke-width="1.25"/>
<line x1="81.16" y1="553.50" x2="81.16" y2="557.70" stroke="#000" stroke-width="1.25"/>
<line x1="83.64" y1="553.50" x2="83.64" y2="555.70" stroke="#000" stroke-width="1.25"/>
<line x1="86.12" y1="553.50" x2="86.12" y2="555.70" stroke="#000" stroke-width="1.25"/>
<line x1="88.60" y1="553.50" x2="88.60" y2="555.70" stroke="#000" stroke-width="1.25"/>
<line x1="91.08" y1="553.50" x2="91.08" y2="557.70" stroke="#000" stroke-width="1.25"/>
<line x1="93.56" y1="553.50" x2="93.56" y2="555.70" stroke="#000" stroke-width="1.25"/>
<line x1="96.04" y1="553.50" x2="96.04" y2="555.70" stroke="#000" stroke-width="1.25"/>
<line x1="98.52" y1="553.50" x2="98.52" y2="555.70" stroke="#000" stroke-width="1.25"/>
<line x1="101.00" y1="553.50" x2="101.00" y2="557.70" stroke="#000" stroke-width="1.25"/>
<line x1="103.48" y1="553.50" x2="103.48" y2="555.70" stroke="#000" stroke-width="1.25"/>
<line x1="105.96" y1="553.50" x2="105.96" y2="555.70" stroke="#000" stroke-width="1.25"/>
<line x1="108.44" y1="553.50" x2="108.44" y2="555.70" stroke="#000" stroke-width="1.25"/>
<line x1="110.92" y1="553.50" x2="110.92" y2="557.70" stroke="#000" stroke-width="1.25"/>
<line x1="113.40" y1="553.50" x2="113.40" y2="555.70" stroke="#000" stroke-width="1.25"/>
<line x1="115.88" y1="553.50" x2="115.88" y2="555.70" stroke="#000" stroke-width="1.25"/>
<line x1="118.36" y1="553.50" x2="118.36" y2="555.70" stroke="#000" stroke-width="1.25"/>
<line x1="120.84" y1="553.50" x2="120.84" y2="557.70" stroke="#000" stroke-width="1.25"/>
<line x1="123.32" y1="553.50" x2="123.32" y2="555.70" stroke="#000" stroke-width="1.25"/>
<text x="119.80" y="490.60" font-size="10.3" text-anchor="end" textLength="19.60" lengthAdjust="spacingAndGlyphs">0.82</text>
<path d="M150.40 552.60 C151.23 552.23 153.72 551.37 155.40 550.40 C157.08 549.43 158.70 548.37 160.50 546.80 C162.30 545.23 164.65 543.88 166.20 541.00 C167.75 538.12 168.72 533.82 169.80 529.50 C170.88 525.18 171.90 519.92 172.70 515.10 C173.50 510.28 174.00 504.93 174.60 500.60 C175.20 496.27 175.58 490.95 176.30 489.10 C177.02 487.25 178.37 487.68 178.90 489.50 C179.43 491.32 179.15 495.75 179.50 500.00 C179.85 504.25 180.45 508.40 181.00 515.00 C181.55 521.60 182.13 534.77 182.80 539.60 C183.47 544.43 184.15 542.80 185.00 544.00 C185.85 545.20 186.90 545.55 187.90 546.80 C188.90 548.05 190.38 550.53 191.00 551.50 C191.62 552.47 191.50 552.42 191.60 552.60 Z" fill="#c8001e"/>
<path d="M141.30 552.40 C142.95 552.40 148.72 552.63 151.20 552.40 C153.68 552.17 154.03 551.83 156.20 551.00 C158.37 550.17 161.98 549.68 164.20 547.40 C166.42 545.12 167.95 541.38 169.50 537.30 C171.05 533.22 172.35 527.72 173.50 522.90 C174.65 518.08 175.48 513.22 176.40 508.40 C177.32 503.58 178.42 498.00 179.00 494.00 C179.58 490.00 179.60 484.50 179.90 484.40 C180.20 484.30 180.47 489.50 180.80 493.40 C181.13 497.30 181.55 502.98 181.90 507.80 C182.25 512.62 182.58 517.48 182.90 522.30 C183.22 527.12 183.48 532.62 183.80 536.70 C184.12 540.78 184.43 544.37 184.80 546.80 C185.17 549.23 185.60 550.37 186.00 551.30 C186.40 552.23 182.83 552.22 187.20 552.40 C191.57 552.58 208.03 552.40 212.20 552.40" fill="none" stroke="#1a3fc0" stroke-width="2.2" stroke-linejoin="round"/>
<rect x="140.30" y="479.40" width="72.90" height="74.10" fill="none" stroke="#000" stroke-width="1.9"/>
<line x1="136.10" y1="483.10" x2="140.30" y2="483.10" stroke="#000" stroke-width="1.25"/>
<line x1="137.70" y1="485.92" x2="140.30" y2="485.92" stroke="#000" stroke-width="1.25"/>
<line x1="137.70" y1="488.74" x2="140.30" y2="488.74" stroke="#000" stroke-width="1.25"/>
<line x1="137.70" y1="491.56" x2="140.30" y2="491.56" stroke="#000" stroke-width="1.25"/>
<line x1="137.70" y1="494.38" x2="140.30" y2="494.38" stroke="#000" stroke-width="1.25"/>
<line x1="136.10" y1="497.20" x2="140.30" y2="497.20" stroke="#000" stroke-width="1.25"/>
<line x1="137.70" y1="500.02" x2="140.30" y2="500.02" stroke="#000" stroke-width="1.25"/>
<line x1="137.70" y1="502.84" x2="140.30" y2="502.84" stroke="#000" stroke-width="1.25"/>
<line x1="137.70" y1="505.66" x2="140.30" y2="505.66" stroke="#000" stroke-width="1.25"/>
<line x1="137.70" y1="508.48" x2="140.30" y2="508.48" stroke="#000" stroke-width="1.25"/>
<line x1="136.10" y1="511.30" x2="140.30" y2="511.30" stroke="#000" stroke-width="1.25"/>
<line x1="137.70" y1="514.12" x2="140.30" y2="514.12" stroke="#000" stroke-width="1.25"/>
<line x1="137.70" y1="516.94" x2="140.30" y2="516.94" stroke="#000" stroke-width="1.25"/>
<line x1="137.70" y1="519.76" x2="140.30" y2="519.76" stroke="#000" stroke-width="1.25"/>
<line x1="137.70" y1="522.58" x2="140.30" y2="522.58" stroke="#000" stroke-width="1.25"/>
<line x1="136.10" y1="525.40" x2="140.30" y2="525.40" stroke="#000" stroke-width="1.25"/>
<line x1="137.70" y1="528.22" x2="140.30" y2="528.22" stroke="#000" stroke-width="1.25"/>
<line x1="137.70" y1="531.04" x2="140.30" y2="531.04" stroke="#000" stroke-width="1.25"/>
<line x1="137.70" y1="533.86" x2="140.30" y2="533.86" stroke="#000" stroke-width="1.25"/>
<line x1="137.70" y1="536.68" x2="140.30" y2="536.68" stroke="#000" stroke-width="1.25"/>
<line x1="136.10" y1="539.50" x2="140.30" y2="539.50" stroke="#000" stroke-width="1.25"/>
<line x1="137.70" y1="542.32" x2="140.30" y2="542.32" stroke="#000" stroke-width="1.25"/>
<line x1="137.70" y1="545.14" x2="140.30" y2="545.14" stroke="#000" stroke-width="1.25"/>
<line x1="137.70" y1="547.96" x2="140.30" y2="547.96" stroke="#000" stroke-width="1.25"/>
<line x1="137.70" y1="550.78" x2="140.30" y2="550.78" stroke="#000" stroke-width="1.25"/>
<line x1="136.10" y1="553.60" x2="140.30" y2="553.60" stroke="#000" stroke-width="1.25"/>
<line x1="140.50" y1="553.50" x2="140.50" y2="557.70" stroke="#000" stroke-width="1.25"/>
<line x1="142.98" y1="553.50" x2="142.98" y2="555.70" stroke="#000" stroke-width="1.25"/>
<line x1="145.46" y1="553.50" x2="145.46" y2="555.70" stroke="#000" stroke-width="1.25"/>
<line x1="147.94" y1="553.50" x2="147.94" y2="555.70" stroke="#000" stroke-width="1.25"/>
<line x1="150.42" y1="553.50" x2="150.42" y2="557.70" stroke="#000" stroke-width="1.25"/>
<line x1="152.90" y1="553.50" x2="152.90" y2="555.70" stroke="#000" stroke-width="1.25"/>
<line x1="155.38" y1="553.50" x2="155.38" y2="555.70" stroke="#000" stroke-width="1.25"/>
<line x1="157.86" y1="553.50" x2="157.86" y2="555.70" stroke="#000" stroke-width="1.25"/>
<line x1="160.34" y1="553.50" x2="160.34" y2="557.70" stroke="#000" stroke-width="1.25"/>
<line x1="162.82" y1="553.50" x2="162.82" y2="555.70" stroke="#000" stroke-width="1.25"/>
<line x1="165.30" y1="553.50" x2="165.30" y2="555.70" stroke="#000" stroke-width="1.25"/>
<line x1="167.78" y1="553.50" x2="167.78" y2="555.70" stroke="#000" stroke-width="1.25"/>
<line x1="170.26" y1="553.50" x2="170.26" y2="557.70" stroke="#000" stroke-width="1.25"/>
<line x1="172.74" y1="553.50" x2="172.74" y2="555.70" stroke="#000" stroke-width="1.25"/>
<line x1="175.22" y1="553.50" x2="175.22" y2="555.70" stroke="#000" stroke-width="1.25"/>
<line x1="177.70" y1="553.50" x2="177.70" y2="555.70" stroke="#000" stroke-width="1.25"/>
<line x1="180.18" y1="553.50" x2="180.18" y2="557.70" stroke="#000" stroke-width="1.25"/>
<line x1="182.66" y1="553.50" x2="182.66" y2="555.70" stroke="#000" stroke-width="1.25"/>
<line x1="185.14" y1="553.50" x2="185.14" y2="555.70" stroke="#000" stroke-width="1.25"/>
<line x1="187.62" y1="553.50" x2="187.62" y2="555.70" stroke="#000" stroke-width="1.25"/>
<line x1="190.10" y1="553.50" x2="190.10" y2="557.70" stroke="#000" stroke-width="1.25"/>
<line x1="192.58" y1="553.50" x2="192.58" y2="555.70" stroke="#000" stroke-width="1.25"/>
<line x1="195.06" y1="553.50" x2="195.06" y2="555.70" stroke="#000" stroke-width="1.25"/>
<line x1="197.54" y1="553.50" x2="197.54" y2="555.70" stroke="#000" stroke-width="1.25"/>
<line x1="200.02" y1="553.50" x2="200.02" y2="557.70" stroke="#000" stroke-width="1.25"/>
<line x1="202.50" y1="553.50" x2="202.50" y2="555.70" stroke="#000" stroke-width="1.25"/>
<line x1="204.98" y1="553.50" x2="204.98" y2="555.70" stroke="#000" stroke-width="1.25"/>
<line x1="207.46" y1="553.50" x2="207.46" y2="555.70" stroke="#000" stroke-width="1.25"/>
<line x1="209.94" y1="553.50" x2="209.94" y2="557.70" stroke="#000" stroke-width="1.25"/>
<line x1="212.42" y1="553.50" x2="212.42" y2="555.70" stroke="#000" stroke-width="1.25"/>
<text x="209.00" y="490.60" font-size="10.3" text-anchor="end" textLength="19.60" lengthAdjust="spacingAndGlyphs">0.98</text>
<path d="M234.70 552.60 C235.53 552.33 237.68 551.97 239.70 551.00 C241.72 550.03 244.42 549.18 246.80 546.80 C249.18 544.42 252.00 540.78 254.00 536.70 C256.00 532.62 257.55 527.12 258.80 522.30 C260.05 517.48 260.62 512.62 261.50 507.80 C262.38 502.98 263.22 497.48 264.10 493.40 C264.98 489.32 266.15 483.30 266.80 483.30 C267.45 483.30 267.67 489.32 268.00 493.40 C268.33 497.48 268.50 502.98 268.80 507.80 C269.10 512.62 269.47 517.48 269.80 522.30 C270.13 527.12 270.43 531.92 270.80 536.70 C271.17 541.48 271.70 548.35 272.00 551.00 C272.30 553.65 272.50 552.33 272.60 552.60 Z" fill="#c8001e"/>
<path d="M231.30 552.40 C232.00 552.40 233.97 552.53 235.50 552.40 C237.03 552.27 238.23 552.43 240.50 551.60 C242.77 550.77 246.47 549.78 249.10 547.40 C251.73 545.02 254.30 541.38 256.30 537.30 C258.30 533.22 259.85 527.72 261.10 522.90 C262.35 518.08 262.92 513.22 263.80 508.40 C264.68 503.58 265.67 497.95 266.40 494.00 C267.13 490.05 267.63 484.80 268.20 484.70 C268.77 484.60 269.35 489.55 269.80 493.40 C270.25 497.25 270.55 502.98 270.90 507.80 C271.25 512.62 271.57 517.48 271.90 522.30 C272.23 527.12 272.53 532.42 272.90 536.70 C273.27 540.98 273.67 545.53 274.10 548.00 C274.53 550.47 275.07 550.77 275.50 551.50 C275.93 552.23 272.08 552.25 276.70 552.40 C281.32 552.55 298.78 552.40 303.20 552.40" fill="none" stroke="#1a3fc0" stroke-width="2.2" stroke-linejoin="round"/>
<rect x="230.30" y="479.40" width="73.90" height="74.10" fill="none" stroke="#000" stroke-width="1.9"/>
<line x1="226.10" y1="483.10" x2="230.30" y2="483.10" stroke="#000" stroke-width="1.25"/>
<line x1="227.70" y1="485.92" x2="230.30" y2="485.92" stroke="#000" stroke-width="1.25"/>
<line x1="227.70" y1="488.74" x2="230.30" y2="488.74" stroke="#000" stroke-width="1.25"/>
<line x1="227.70" y1="491.56" x2="230.30" y2="491.56" stroke="#000" stroke-width="1.25"/>
<line x1="227.70" y1="494.38" x2="230.30" y2="494.38" stroke="#000" stroke-width="1.25"/>
<line x1="226.10" y1="497.20" x2="230.30" y2="497.20" stroke="#000" stroke-width="1.25"/>
<line x1="227.70" y1="500.02" x2="230.30" y2="500.02" stroke="#000" stroke-width="1.25"/>
<line x1="227.70" y1="502.84" x2="230.30" y2="502.84" stroke="#000" stroke-width="1.25"/>
<line x1="227.70" y1="505.66" x2="230.30" y2="505.66" stroke="#000" stroke-width="1.25"/>
<line x1="227.70" y1="508.48" x2="230.30" y2="508.48" stroke="#000" stroke-width="1.25"/>
<line x1="226.10" y1="511.30" x2="230.30" y2="511.30" stroke="#000" stroke-width="1.25"/>
<line x1="227.70" y1="514.12" x2="230.30" y2="514.12" stroke="#000" stroke-width="1.25"/>
<line x1="227.70" y1="516.94" x2="230.30" y2="516.94" stroke="#000" stroke-width="1.25"/>
<line x1="227.70" y1="519.76" x2="230.30" y2="519.76" stroke="#000" stroke-width="1.25"/>
<line x1="227.70" y1="522.58" x2="230.30" y2="522.58" stroke="#000" stroke-width="1.25"/>
<line x1="226.10" y1="525.40" x2="230.30" y2="525.40" stroke="#000" stroke-width="1.25"/>
<line x1="227.70" y1="528.22" x2="230.30" y2="528.22" stroke="#000" stroke-width="1.25"/>
<line x1="227.70" y1="531.04" x2="230.30" y2="531.04" stroke="#000" stroke-width="1.25"/>
<line x1="227.70" y1="533.86" x2="230.30" y2="533.86" stroke="#000" stroke-width="1.25"/>
<line x1="227.70" y1="536.68" x2="230.30" y2="536.68" stroke="#000" stroke-width="1.25"/>
<line x1="226.10" y1="539.50" x2="230.30" y2="539.50" stroke="#000" stroke-width="1.25"/>
<line x1="227.70" y1="542.32" x2="230.30" y2="542.32" stroke="#000" stroke-width="1.25"/>
<line x1="227.70" y1="545.14" x2="230.30" y2="545.14" stroke="#000" stroke-width="1.25"/>
<line x1="227.70" y1="547.96" x2="230.30" y2="547.96" stroke="#000" stroke-width="1.25"/>
<line x1="227.70" y1="550.78" x2="230.30" y2="550.78" stroke="#000" stroke-width="1.25"/>
<line x1="226.10" y1="553.60" x2="230.30" y2="553.60" stroke="#000" stroke-width="1.25"/>
<line x1="230.50" y1="553.50" x2="230.50" y2="557.70" stroke="#000" stroke-width="1.25"/>
<line x1="232.98" y1="553.50" x2="232.98" y2="555.70" stroke="#000" stroke-width="1.25"/>
<line x1="235.46" y1="553.50" x2="235.46" y2="555.70" stroke="#000" stroke-width="1.25"/>
<line x1="237.94" y1="553.50" x2="237.94" y2="555.70" stroke="#000" stroke-width="1.25"/>
<line x1="240.42" y1="553.50" x2="240.42" y2="557.70" stroke="#000" stroke-width="1.25"/>
<line x1="242.90" y1="553.50" x2="242.90" y2="555.70" stroke="#000" stroke-width="1.25"/>
<line x1="245.38" y1="553.50" x2="245.38" y2="555.70" stroke="#000" stroke-width="1.25"/>
<line x1="247.86" y1="553.50" x2="247.86" y2="555.70" stroke="#000" stroke-width="1.25"/>
<line x1="250.34" y1="553.50" x2="250.34" y2="557.70" stroke="#000" stroke-width="1.25"/>
<line x1="252.82" y1="553.50" x2="252.82" y2="555.70" stroke="#000" stroke-width="1.25"/>
<line x1="255.30" y1="553.50" x2="255.30" y2="555.70" stroke="#000" stroke-width="1.25"/>
<line x1="257.78" y1="553.50" x2="257.78" y2="555.70" stroke="#000" stroke-width="1.25"/>
<line x1="260.26" y1="553.50" x2="260.26" y2="557.70" stroke="#000" stroke-width="1.25"/>
<line x1="262.74" y1="553.50" x2="262.74" y2="555.70" stroke="#000" stroke-width="1.25"/>
<line x1="265.22" y1="553.50" x2="265.22" y2="555.70" stroke="#000" stroke-width="1.25"/>
<line x1="267.70" y1="553.50" x2="267.70" y2="555.70" stroke="#000" stroke-width="1.25"/>
<line x1="270.18" y1="553.50" x2="270.18" y2="557.70" stroke="#000" stroke-width="1.25"/>
<line x1="272.66" y1="553.50" x2="272.66" y2="555.70" stroke="#000" stroke-width="1.25"/>
<line x1="275.14" y1="553.50" x2="275.14" y2="555.70" stroke="#000" stroke-width="1.25"/>
<line x1="277.62" y1="553.50" x2="277.62" y2="555.70" stroke="#000" stroke-width="1.25"/>
<line x1="280.10" y1="553.50" x2="280.10" y2="557.70" stroke="#000" stroke-width="1.25"/>
<line x1="282.58" y1="553.50" x2="282.58" y2="555.70" stroke="#000" stroke-width="1.25"/>
<line x1="285.06" y1="553.50" x2="285.06" y2="555.70" stroke="#000" stroke-width="1.25"/>
<line x1="287.54" y1="553.50" x2="287.54" y2="555.70" stroke="#000" stroke-width="1.25"/>
<line x1="290.02" y1="553.50" x2="290.02" y2="557.70" stroke="#000" stroke-width="1.25"/>
<line x1="292.50" y1="553.50" x2="292.50" y2="555.70" stroke="#000" stroke-width="1.25"/>
<line x1="294.98" y1="553.50" x2="294.98" y2="555.70" stroke="#000" stroke-width="1.25"/>
<line x1="297.46" y1="553.50" x2="297.46" y2="555.70" stroke="#000" stroke-width="1.25"/>
<line x1="299.94" y1="553.50" x2="299.94" y2="557.70" stroke="#000" stroke-width="1.25"/>
<line x1="302.42" y1="553.50" x2="302.42" y2="555.70" stroke="#000" stroke-width="1.25"/>
<text x="300.00" y="490.60" font-size="10.3" text-anchor="end" textLength="19.60" lengthAdjust="spacingAndGlyphs">0.85</text>
<path d="M323.20 552.60 C324.03 552.33 325.92 551.97 328.20 551.00 C330.48 550.03 334.60 548.47 336.90 546.80 C339.20 545.13 340.45 543.88 342.00 541.00 C343.55 538.12 345.03 533.82 346.20 529.50 C347.37 525.18 348.12 519.92 349.00 515.10 C349.88 510.28 350.57 505.53 351.50 500.60 C352.43 495.67 353.85 486.43 354.60 485.50 C355.35 484.57 355.52 491.75 356.00 495.00 C356.48 498.25 357.00 500.83 357.50 505.00 C358.00 509.17 358.58 515.00 359.00 520.00 C359.42 525.00 359.67 529.83 360.00 535.00 C360.33 540.17 360.73 548.07 361.00 551.00 C361.27 553.93 361.50 552.33 361.60 552.60 Z" fill="#c8001e"/>
<path d="M321.90 552.40 C322.25 552.40 322.82 552.53 324.00 552.40 C325.18 552.27 326.72 552.43 329.00 551.60 C331.28 550.77 335.30 549.07 337.70 547.40 C340.10 545.73 341.77 544.48 343.40 541.60 C345.03 538.72 346.33 534.42 347.50 530.10 C348.67 525.78 349.52 520.52 350.40 515.70 C351.28 510.88 352.05 505.57 352.80 501.20 C353.55 496.83 354.10 489.60 354.90 489.50 C355.70 489.40 356.95 496.33 357.60 500.60 C358.25 504.87 358.43 510.28 358.80 515.10 C359.17 519.92 359.52 525.18 359.80 529.50 C360.08 533.82 360.15 537.42 360.50 541.00 C360.85 544.58 361.47 549.10 361.90 551.00 C362.33 552.90 357.77 552.17 363.10 552.40 C368.43 552.63 388.77 552.40 393.90 552.40" fill="none" stroke="#1a3fc0" stroke-width="2.2" stroke-linejoin="round"/>
<rect x="320.90" y="479.40" width="74.00" height="74.10" fill="none" stroke="#000" stroke-width="1.9"/>
<line x1="316.70" y1="483.10" x2="320.90" y2="483.10" stroke="#000" stroke-width="1.25"/>
<line x1="318.30" y1="485.92" x2="320.90" y2="485.92" stroke="#000" stroke-width="1.25"/>
<line x1="318.30" y1="488.74" x2="320.90" y2="488.74" stroke="#000" stroke-width="1.25"/>
<line x1="318.30" y1="491.56" x2="320.90" y2="491.56" stroke="#000" stroke-width="1.25"/>
<line x1="318.30" y1="494.38" x2="320.90" y2="494.38" stroke="#000" stroke-width="1.25"/>
<line x1="316.70" y1="497.20" x2="320.90" y2="497.20" stroke="#000" stroke-width="1.25"/>
<line x1="318.30" y1="500.02" x2="320.90" y2="500.02" stroke="#000" stroke-width="1.25"/>
<line x1="318.30" y1="502.84" x2="320.90" y2="502.84" stroke="#000" stroke-width="1.25"/>
<line x1="318.30" y1="505.66" x2="320.90" y2="505.66" stroke="#000" stroke-width="1.25"/>
<line x1="318.30" y1="508.48" x2="320.90" y2="508.48" stroke="#000" stroke-width="1.25"/>
<line x1="316.70" y1="511.30" x2="320.90" y2="511.30" stroke="#000" stroke-width="1.25"/>
<line x1="318.30" y1="514.12" x2="320.90" y2="514.12" stroke="#000" stroke-width="1.25"/>
<line x1="318.30" y1="516.94" x2="320.90" y2="516.94" stroke="#000" stroke-width="1.25"/>
<line x1="318.30" y1="519.76" x2="320.90" y2="519.76" stroke="#000" stroke-width="1.25"/>
<line x1="318.30" y1="522.58" x2="320.90" y2="522.58" stroke="#000" stroke-width="1.25"/>
<line x1="316.70" y1="525.40" x2="320.90" y2="525.40" stroke="#000" stroke-width="1.25"/>
<line x1="318.30" y1="528.22" x2="320.90" y2="528.22" stroke="#000" stroke-width="1.25"/>
<line x1="318.30" y1="531.04" x2="320.90" y2="531.04" stroke="#000" stroke-width="1.25"/>
<line x1="318.30" y1="533.86" x2="320.90" y2="533.86" stroke="#000" stroke-width="1.25"/>
<line x1="318.30" y1="536.68" x2="320.90" y2="536.68" stroke="#000" stroke-width="1.25"/>
<line x1="316.70" y1="539.50" x2="320.90" y2="539.50" stroke="#000" stroke-width="1.25"/>
<line x1="318.30" y1="542.32" x2="320.90" y2="542.32" stroke="#000" stroke-width="1.25"/>
<line x1="318.30" y1="545.14" x2="320.90" y2="545.14" stroke="#000" stroke-width="1.25"/>
<line x1="318.30" y1="547.96" x2="320.90" y2="547.96" stroke="#000" stroke-width="1.25"/>
<line x1="318.30" y1="550.78" x2="320.90" y2="550.78" stroke="#000" stroke-width="1.25"/>
<line x1="316.70" y1="553.60" x2="320.90" y2="553.60" stroke="#000" stroke-width="1.25"/>
<line x1="321.10" y1="553.50" x2="321.10" y2="557.70" stroke="#000" stroke-width="1.25"/>
<line x1="323.58" y1="553.50" x2="323.58" y2="555.70" stroke="#000" stroke-width="1.25"/>
<line x1="326.06" y1="553.50" x2="326.06" y2="555.70" stroke="#000" stroke-width="1.25"/>
<line x1="328.54" y1="553.50" x2="328.54" y2="555.70" stroke="#000" stroke-width="1.25"/>
<line x1="331.02" y1="553.50" x2="331.02" y2="557.70" stroke="#000" stroke-width="1.25"/>
<line x1="333.50" y1="553.50" x2="333.50" y2="555.70" stroke="#000" stroke-width="1.25"/>
<line x1="335.98" y1="553.50" x2="335.98" y2="555.70" stroke="#000" stroke-width="1.25"/>
<line x1="338.46" y1="553.50" x2="338.46" y2="555.70" stroke="#000" stroke-width="1.25"/>
<line x1="340.94" y1="553.50" x2="340.94" y2="557.70" stroke="#000" stroke-width="1.25"/>
<line x1="343.42" y1="553.50" x2="343.42" y2="555.70" stroke="#000" stroke-width="1.25"/>
<line x1="345.90" y1="553.50" x2="345.90" y2="555.70" stroke="#000" stroke-width="1.25"/>
<line x1="348.38" y1="553.50" x2="348.38" y2="555.70" stroke="#000" stroke-width="1.25"/>
<line x1="350.86" y1="553.50" x2="350.86" y2="557.70" stroke="#000" stroke-width="1.25"/>
<line x1="353.34" y1="553.50" x2="353.34" y2="555.70" stroke="#000" stroke-width="1.25"/>
<line x1="355.82" y1="553.50" x2="355.82" y2="555.70" stroke="#000" stroke-width="1.25"/>
<line x1="358.30" y1="553.50" x2="358.30" y2="555.70" stroke="#000" stroke-width="1.25"/>
<line x1="360.78" y1="553.50" x2="360.78" y2="557.70" stroke="#000" stroke-width="1.25"/>
<line x1="363.26" y1="553.50" x2="363.26" y2="555.70" stroke="#000" stroke-width="1.25"/>
<line x1="365.74" y1="553.50" x2="365.74" y2="555.70" stroke="#000" stroke-width="1.25"/>
<line x1="368.22" y1="553.50" x2="368.22" y2="555.70" stroke="#000" stroke-width="1.25"/>
<line x1="370.70" y1="553.50" x2="370.70" y2="557.70" stroke="#000" stroke-width="1.25"/>
<line x1="373.18" y1="553.50" x2="373.18" y2="555.70" stroke="#000" stroke-width="1.25"/>
<line x1="375.66" y1="553.50" x2="375.66" y2="555.70" stroke="#000" stroke-width="1.25"/>
<line x1="378.14" y1="553.50" x2="378.14" y2="555.70" stroke="#000" stroke-width="1.25"/>
<line x1="380.62" y1="553.50" x2="380.62" y2="557.70" stroke="#000" stroke-width="1.25"/>
<line x1="383.10" y1="553.50" x2="383.10" y2="555.70" stroke="#000" stroke-width="1.25"/>
<line x1="385.58" y1="553.50" x2="385.58" y2="555.70" stroke="#000" stroke-width="1.25"/>
<line x1="388.06" y1="553.50" x2="388.06" y2="555.70" stroke="#000" stroke-width="1.25"/>
<line x1="390.54" y1="553.50" x2="390.54" y2="557.70" stroke="#000" stroke-width="1.25"/>
<line x1="393.02" y1="553.50" x2="393.02" y2="555.70" stroke="#000" stroke-width="1.25"/>
<text x="390.70" y="490.60" font-size="10.3" text-anchor="end" textLength="19.60" lengthAdjust="spacingAndGlyphs">0.91</text>
<path d="M414.10 552.60 C414.93 552.33 416.82 551.97 419.10 551.00 C421.38 550.03 425.63 548.47 427.80 546.80 C429.97 545.13 430.67 543.88 432.10 541.00 C433.53 538.12 435.20 533.82 436.40 529.50 C437.60 525.18 438.28 519.92 439.30 515.10 C440.32 510.28 441.42 505.37 442.50 500.60 C443.58 495.83 444.80 486.50 445.80 486.50 C446.80 486.50 447.87 495.83 448.50 500.60 C449.13 505.37 449.25 510.28 449.60 515.10 C449.95 519.92 450.27 525.18 450.60 529.50 C450.93 533.82 451.23 537.42 451.60 541.00 C451.97 544.58 452.50 549.07 452.80 551.00 C453.10 552.93 453.30 552.33 453.40 552.60 Z" fill="#c8001e"/>
<path d="M409.30 552.40 C410.23 552.40 413.13 552.53 414.90 552.40 C416.67 552.27 417.62 552.43 419.90 551.60 C422.18 550.77 426.43 549.07 428.60 547.40 C430.77 545.73 431.47 544.48 432.90 541.60 C434.33 538.72 436.00 534.42 437.20 530.10 C438.40 525.78 439.08 520.52 440.10 515.70 C441.12 510.88 442.35 505.93 443.30 501.20 C444.25 496.47 445.05 487.40 445.80 487.30 C446.55 487.20 447.28 495.97 447.80 500.60 C448.32 505.23 448.55 510.28 448.90 515.10 C449.25 519.92 449.57 525.18 449.90 529.50 C450.23 533.82 450.53 537.42 450.90 541.00 C451.27 544.58 451.70 549.10 452.10 551.00 C452.50 552.90 448.27 552.17 453.30 552.40 C458.33 552.63 477.47 552.40 482.30 552.40" fill="none" stroke="#1a3fc0" stroke-width="2.2" stroke-linejoin="round"/>
<rect x="408.30" y="479.40" width="75.00" height="74.10" fill="none" stroke="#000" stroke-width="1.9"/>
<line x1="404.10" y1="483.10" x2="408.30" y2="483.10" stroke="#000" stroke-width="1.25"/>
<line x1="405.70" y1="485.92" x2="408.30" y2="485.92" stroke="#000" stroke-width="1.25"/>
<line x1="405.70" y1="488.74" x2="408.30" y2="488.74" stroke="#000" stroke-width="1.25"/>
<line x1="405.70" y1="491.56" x2="408.30" y2="491.56" stroke="#000" stroke-width="1.25"/>
<line x1="405.70" y1="494.38" x2="408.30" y2="494.38" stroke="#000" stroke-width="1.25"/>
<line x1="404.10" y1="497.20" x2="408.30" y2="497.20" stroke="#000" stroke-width="1.25"/>
<line x1="405.70" y1="500.02" x2="408.30" y2="500.02" stroke="#000" stroke-width="1.25"/>
<line x1="405.70" y1="502.84" x2="408.30" y2="502.84" stroke="#000" stroke-width="1.25"/>
<line x1="405.70" y1="505.66" x2="408.30" y2="505.66" stroke="#000" stroke-width="1.25"/>
<line x1="405.70" y1="508.48" x2="408.30" y2="508.48" stroke="#000" stroke-width="1.25"/>
<line x1="404.10" y1="511.30" x2="408.30" y2="511.30" stroke="#000" stroke-width="1.25"/>
<line x1="405.70" y1="514.12" x2="408.30" y2="514.12" stroke="#000" stroke-width="1.25"/>
<line x1="405.70" y1="516.94" x2="408.30" y2="516.94" stroke="#000" stroke-width="1.25"/>
<line x1="405.70" y1="519.76" x2="408.30" y2="519.76" stroke="#000" stroke-width="1.25"/>
<line x1="405.70" y1="522.58" x2="408.30" y2="522.58" stroke="#000" stroke-width="1.25"/>
<line x1="404.10" y1="525.40" x2="408.30" y2="525.40" stroke="#000" stroke-width="1.25"/>
<line x1="405.70" y1="528.22" x2="408.30" y2="528.22" stroke="#000" stroke-width="1.25"/>
<line x1="405.70" y1="531.04" x2="408.30" y2="531.04" stroke="#000" stroke-width="1.25"/>
<line x1="405.70" y1="533.86" x2="408.30" y2="533.86" stroke="#000" stroke-width="1.25"/>
<line x1="405.70" y1="536.68" x2="408.30" y2="536.68" stroke="#000" stroke-width="1.25"/>
<line x1="404.10" y1="539.50" x2="408.30" y2="539.50" stroke="#000" stroke-width="1.25"/>
<line x1="405.70" y1="542.32" x2="408.30" y2="542.32" stroke="#000" stroke-width="1.25"/>
<line x1="405.70" y1="545.14" x2="408.30" y2="545.14" stroke="#000" stroke-width="1.25"/>
<line x1="405.70" y1="547.96" x2="408.30" y2="547.96" stroke="#000" stroke-width="1.25"/>
<line x1="405.70" y1="550.78" x2="408.30" y2="550.78" stroke="#000" stroke-width="1.25"/>
<line x1="404.10" y1="553.60" x2="408.30" y2="553.60" stroke="#000" stroke-width="1.25"/>
<line x1="408.50" y1="553.50" x2="408.50" y2="557.70" stroke="#000" stroke-width="1.25"/>
<line x1="410.98" y1="553.50" x2="410.98" y2="555.70" stroke="#000" stroke-width="1.25"/>
<line x1="413.46" y1="553.50" x2="413.46" y2="555.70" stroke="#000" stroke-width="1.25"/>
<line x1="415.94" y1="553.50" x2="415.94" y2="555.70" stroke="#000" stroke-width="1.25"/>
<line x1="418.42" y1="553.50" x2="418.42" y2="557.70" stroke="#000" stroke-width="1.25"/>
<line x1="420.90" y1="553.50" x2="420.90" y2="555.70" stroke="#000" stroke-width="1.25"/>
<line x1="423.38" y1="553.50" x2="423.38" y2="555.70" stroke="#000" stroke-width="1.25"/>
<line x1="425.86" y1="553.50" x2="425.86" y2="555.70" stroke="#000" stroke-width="1.25"/>
<line x1="428.34" y1="553.50" x2="428.34" y2="557.70" stroke="#000" stroke-width="1.25"/>
<line x1="430.82" y1="553.50" x2="430.82" y2="555.70" stroke="#000" stroke-width="1.25"/>
<line x1="433.30" y1="553.50" x2="433.30" y2="555.70" stroke="#000" stroke-width="1.25"/>
<line x1="435.78" y1="553.50" x2="435.78" y2="555.70" stroke="#000" stroke-width="1.25"/>
<line x1="438.26" y1="553.50" x2="438.26" y2="557.70" stroke="#000" stroke-width="1.25"/>
<line x1="440.74" y1="553.50" x2="440.74" y2="555.70" stroke="#000" stroke-width="1.25"/>
<line x1="443.22" y1="553.50" x2="443.22" y2="555.70" stroke="#000" stroke-width="1.25"/>
<line x1="445.70" y1="553.50" x2="445.70" y2="555.70" stroke="#000" stroke-width="1.25"/>
<line x1="448.18" y1="553.50" x2="448.18" y2="557.70" stroke="#000" stroke-width="1.25"/>
<line x1="450.66" y1="553.50" x2="450.66" y2="555.70" stroke="#000" stroke-width="1.25"/>
<line x1="453.14" y1="553.50" x2="453.14" y2="555.70" stroke="#000" stroke-width="1.25"/>
<line x1="455.62" y1="553.50" x2="455.62" y2="555.70" stroke="#000" stroke-width="1.25"/>
<line x1="458.10" y1="553.50" x2="458.10" y2="557.70" stroke="#000" stroke-width="1.25"/>
<line x1="460.58" y1="553.50" x2="460.58" y2="555.70" stroke="#000" stroke-width="1.25"/>
<line x1="463.06" y1="553.50" x2="463.06" y2="555.70" stroke="#000" stroke-width="1.25"/>
<line x1="465.54" y1="553.50" x2="465.54" y2="555.70" stroke="#000" stroke-width="1.25"/>
<line x1="468.02" y1="553.50" x2="468.02" y2="557.70" stroke="#000" stroke-width="1.25"/>
<line x1="470.50" y1="553.50" x2="470.50" y2="555.70" stroke="#000" stroke-width="1.25"/>
<line x1="472.98" y1="553.50" x2="472.98" y2="555.70" stroke="#000" stroke-width="1.25"/>
<line x1="475.46" y1="553.50" x2="475.46" y2="555.70" stroke="#000" stroke-width="1.25"/>
<line x1="477.94" y1="553.50" x2="477.94" y2="557.70" stroke="#000" stroke-width="1.25"/>
<line x1="480.42" y1="553.50" x2="480.42" y2="555.70" stroke="#000" stroke-width="1.25"/>
<line x1="482.90" y1="553.50" x2="482.90" y2="555.70" stroke="#000" stroke-width="1.25"/>
<text x="479.10" y="490.60" font-size="10.3" text-anchor="end" textLength="19.60" lengthAdjust="spacingAndGlyphs">0.86</text>
<text x="90.50" y="392.40" font-size="11.4" text-anchor="middle" textLength="43.30" lengthAdjust="spacingAndGlyphs">Donor 1</text>
<text x="177.90" y="392.40" font-size="11.4" text-anchor="middle" textLength="43.30" lengthAdjust="spacingAndGlyphs">Donor 2</text>
<text x="267.85" y="392.40" font-size="11.4" text-anchor="middle" textLength="43.30" lengthAdjust="spacingAndGlyphs">Donor 3</text>
<text x="358.00" y="392.40" font-size="11.4" text-anchor="middle" textLength="43.30" lengthAdjust="spacingAndGlyphs">Donor 4</text>
<text x="445.65" y="392.40" font-size="11.4" text-anchor="middle" textLength="43.30" lengthAdjust="spacingAndGlyphs">Donor 5</text>
<text x="42.8" y="435.2" font-size="11.3" text-anchor="middle" textLength="71.0" lengthAdjust="spacingAndGlyphs" transform="rotate(-90 42.8 435.2)">CD34<tspan dy="-4.3" font-size="9">+</tspan><tspan dy="4.3">CD38</tspan><tspan dy="-4.3" font-size="9">−</tspan></text>
<text x="42.8" y="518.2" font-size="11.3" text-anchor="middle" textLength="71.0" lengthAdjust="spacingAndGlyphs" transform="rotate(-90 42.8 518.2)">CD34<tspan dy="-4.3" font-size="9">+</tspan><tspan dy="4.3">CD38</tspan><tspan dy="-4.3" font-size="9">+</tspan></text>
<text x="50.60" y="568.80" font-size="11.0" textLength="41.30" lengthAdjust="spacingAndGlyphs">Siglec-6</text>
<line x1="93.40" y1="566.00" x2="113.00" y2="566.00" stroke="#000" stroke-width="1.9"/>
<path d="M110.8 563.7 L120.0 566.0 L110.8 568.3 Z" fill="#000"/>
<text x="11.60" y="594.00" font-size="14.0" textLength="9.90" lengthAdjust="spacingAndGlyphs" font-weight="bold">E</text>
<line x1="67.50" y1="596.20" x2="67.50" y2="721.30" stroke="#000" stroke-width="1.7"/>
<line x1="61.40" y1="720.30" x2="67.50" y2="720.30" stroke="#000" stroke-width="1.6"/>
<text x="58.30" y="724.40" font-size="11.8" text-anchor="end" textLength="6.30" lengthAdjust="spacingAndGlyphs">0</text>
<line x1="61.40" y1="695.47" x2="67.50" y2="695.47" stroke="#000" stroke-width="1.6"/>
<text x="58.30" y="699.57" font-size="11.8" text-anchor="end" textLength="12.60" lengthAdjust="spacingAndGlyphs">25</text>
<line x1="61.40" y1="670.64" x2="67.50" y2="670.64" stroke="#000" stroke-width="1.6"/>
<text x="58.30" y="674.74" font-size="11.8" text-anchor="end" textLength="12.60" lengthAdjust="spacingAndGlyphs">50</text>
<line x1="61.40" y1="645.81" x2="67.50" y2="645.81" stroke="#000" stroke-width="1.6"/>
<text x="58.30" y="649.91" font-size="11.8" text-anchor="end" textLength="12.60" lengthAdjust="spacingAndGlyphs">75</text>
<line x1="61.40" y1="620.98" x2="67.50" y2="620.98" stroke="#000" stroke-width="1.6"/>
<text x="58.30" y="625.08" font-size="11.8" text-anchor="end" textLength="19.00" lengthAdjust="spacingAndGlyphs">100</text>
<line x1="61.40" y1="596.15" x2="67.50" y2="596.15" stroke="#000" stroke-width="1.6"/>
<text x="58.30" y="600.25" font-size="11.8" text-anchor="end" textLength="19.00" lengthAdjust="spacingAndGlyphs">125</text>
<line x1="66.70" y1="720.30" x2="218.50" y2="720.30" stroke="#000" stroke-width="1.8"/>
<line x1="93.50" y1="720.30" x2="93.50" y2="724.90" stroke="#000" stroke-width="1.6"/>
<line x1="142.70" y1="720.30" x2="142.70" y2="724.90" stroke="#000" stroke-width="1.6"/>
<line x1="192.30" y1="720.30" x2="192.30" y2="724.90" stroke="#000" stroke-width="1.6"/>
<rect x="71.75" y="620.98" width="11.50" height="99.32" fill="#c8001e"/>
<rect x="86.25" y="618.00" width="12.00" height="102.30" fill="#0a35ac"/>
<rect x="101.25" y="701.43" width="11.75" height="18.87" fill="#42fc06"/>
<line x1="91.45" y1="598.30" x2="91.45" y2="618.00" stroke="#000" stroke-width="1.5"/>
<line x1="88.05" y1="598.30" x2="94.85" y2="598.30" stroke="#000" stroke-width="1.6"/>
<line x1="106.83" y1="695.80" x2="106.83" y2="701.43" stroke="#000" stroke-width="1.5"/>
<line x1="103.33" y1="695.80" x2="110.33" y2="695.80" stroke="#000" stroke-width="1.6"/>
<rect x="122.00" y="620.98" width="11.75" height="99.32" fill="#c8001e"/>
<rect x="136.25" y="609.36" width="12.50" height="110.94" fill="#0a35ac"/>
<rect x="151.25" y="717.32" width="12.00" height="2.98" fill="#42fc06"/>
<line x1="141.70" y1="606.30" x2="141.70" y2="609.36" stroke="#000" stroke-width="1.5"/>
<line x1="138.30" y1="606.30" x2="145.10" y2="606.30" stroke="#000" stroke-width="1.6"/>
<line x1="156.95" y1="715.00" x2="156.95" y2="717.32" stroke="#000" stroke-width="1.5"/>
<line x1="153.45" y1="715.00" x2="160.45" y2="715.00" stroke="#000" stroke-width="1.6"/>
<rect x="172.50" y="620.98" width="12.00" height="99.32" fill="#c8001e"/>
<rect x="187.00" y="633.39" width="12.25" height="86.90" fill="#0a35ac"/>
<rect x="201.25" y="713.35" width="12.50" height="6.95" fill="#42fc06"/>
<line x1="192.32" y1="627.50" x2="192.32" y2="633.39" stroke="#000" stroke-width="1.5"/>
<line x1="188.92" y1="627.50" x2="195.72" y2="627.50" stroke="#000" stroke-width="1.6"/>
<line x1="207.20" y1="708.00" x2="207.20" y2="713.35" stroke="#000" stroke-width="1.5"/>
<line x1="203.70" y1="708.00" x2="210.70" y2="708.00" stroke="#000" stroke-width="1.6"/>
<line x1="75.30" y1="594.50" x2="94.00" y2="594.50" stroke="#000" stroke-width="1.6"/>
<line x1="94.60" y1="594.50" x2="113.10" y2="594.50" stroke="#000" stroke-width="1.6"/>
<text x="84.65" y="591.50" font-size="11.0" text-anchor="middle" textLength="10.60" lengthAdjust="spacingAndGlyphs">ns</text>
<text x="103.85" y="595.10" font-size="11.2" text-anchor="middle" textLength="14.00" lengthAdjust="spacingAndGlyphs">***</text>
<line x1="124.80" y1="601.25" x2="143.10" y2="601.25" stroke="#000" stroke-width="1.6"/>
<line x1="146.00" y1="601.25" x2="164.60" y2="601.25" stroke="#000" stroke-width="1.6"/>
<text x="133.95" y="598.25" font-size="11.0" text-anchor="middle" textLength="10.60" lengthAdjust="spacingAndGlyphs">ns</text>
<text x="155.30" y="601.85" font-size="11.2" text-anchor="middle" textLength="14.00" lengthAdjust="spacingAndGlyphs">***</text>
<line x1="176.20" y1="617.50" x2="194.60" y2="617.50" stroke="#000" stroke-width="1.6"/>
<line x1="197.30" y1="617.50" x2="216.20" y2="617.50" stroke="#000" stroke-width="1.6"/>
<text x="185.40" y="614.50" font-size="11.0" text-anchor="middle" textLength="10.60" lengthAdjust="spacingAndGlyphs">ns</text>
<text x="206.75" y="618.10" font-size="11.2" text-anchor="middle" textLength="14.00" lengthAdjust="spacingAndGlyphs">***</text>
<text x="92.40" y="738.60" font-size="11.0" text-anchor="middle" textLength="14.50" lengthAdjust="spacingAndGlyphs">1:1</text>
<text x="142.00" y="738.60" font-size="11.0" text-anchor="middle" textLength="14.50" lengthAdjust="spacingAndGlyphs">5:1</text>
<text x="192.00" y="738.60" font-size="11.0" text-anchor="middle" textLength="19.50" lengthAdjust="spacingAndGlyphs">10:1</text>
<text x="142.80" y="757.30" font-size="12.4" text-anchor="middle" textLength="38.80" lengthAdjust="spacingAndGlyphs">E:T ratio</text>
<text x="30.00" y="658.00" font-size="13.3" text-anchor="middle" textLength="63.50" lengthAdjust="spacingAndGlyphs" transform="rotate(-90 30.00 658.00)">Live cells (%)</text>
<line x1="289.00" y1="597.30" x2="289.00" y2="721.20" stroke="#000" stroke-width="1.7"/>
<line x1="283.50" y1="720.20" x2="289.00" y2="720.20" stroke="#000" stroke-width="1.6"/>
<text x="280.10" y="724.30" font-size="11.8" text-anchor="end" textLength="6.30" lengthAdjust="spacingAndGlyphs">0</text>
<line x1="283.50" y1="695.62" x2="289.00" y2="695.62" stroke="#000" stroke-width="1.6"/>
<text x="280.10" y="699.72" font-size="11.8" text-anchor="end" textLength="12.60" lengthAdjust="spacingAndGlyphs">10</text>
<line x1="283.50" y1="671.04" x2="289.00" y2="671.04" stroke="#000" stroke-width="1.6"/>
<text x="280.10" y="675.14" font-size="11.8" text-anchor="end" textLength="12.60" lengthAdjust="spacingAndGlyphs">20</text>
<line x1="283.50" y1="646.46" x2="289.00" y2="646.46" stroke="#000" stroke-width="1.6"/>
<text x="280.10" y="650.56" font-size="11.8" text-anchor="end" textLength="12.60" lengthAdjust="spacingAndGlyphs">30</text>
<line x1="283.50" y1="621.88" x2="289.00" y2="621.88" stroke="#000" stroke-width="1.6"/>
<text x="280.10" y="625.98" font-size="11.8" text-anchor="end" textLength="12.60" lengthAdjust="spacingAndGlyphs">40</text>
<line x1="283.50" y1="597.30" x2="289.00" y2="597.30" stroke="#000" stroke-width="1.6"/>
<text x="280.10" y="601.40" font-size="11.8" text-anchor="end" textLength="12.60" lengthAdjust="spacingAndGlyphs">50</text>
<line x1="288.20" y1="720.20" x2="474.80" y2="720.20" stroke="#000" stroke-width="1.8"/>
<line x1="307.40" y1="720.20" x2="307.40" y2="724.80" stroke="#000" stroke-width="1.6"/>
<line x1="344.90" y1="720.20" x2="344.90" y2="724.80" stroke="#000" stroke-width="1.6"/>
<line x1="381.50" y1="720.20" x2="381.50" y2="724.80" stroke="#000" stroke-width="1.6"/>
<line x1="418.50" y1="720.20" x2="418.50" y2="724.80" stroke="#000" stroke-width="1.6"/>
<line x1="455.20" y1="720.20" x2="455.20" y2="724.80" stroke="#000" stroke-width="1.6"/>
<rect x="291.90" y="714.79" width="9.40" height="5.41" fill="#c8001e"/>
<line x1="296.20" y1="712.80" x2="296.20" y2="714.79" stroke="#000" stroke-width="1.5"/>
<line x1="293.70" y1="712.80" x2="298.70" y2="712.80" stroke="#000" stroke-width="1.6"/>
<rect x="302.60" y="717.00" width="9.40" height="3.20" fill="#0a35ac"/>
<line x1="306.90" y1="713.40" x2="306.90" y2="717.00" stroke="#000" stroke-width="1.5"/>
<line x1="304.40" y1="713.40" x2="309.40" y2="713.40" stroke="#000" stroke-width="1.6"/>
<rect x="329.40" y="639.58" width="9.40" height="80.62" fill="#c8001e"/>
<line x1="333.70" y1="627.00" x2="333.70" y2="639.58" stroke="#000" stroke-width="1.5"/>
<line x1="331.20" y1="627.00" x2="336.20" y2="627.00" stroke="#000" stroke-width="1.6"/>
<rect x="340.10" y="652.61" width="9.40" height="67.60" fill="#0a35ac"/>
<line x1="344.40" y1="643.50" x2="344.40" y2="652.61" stroke="#000" stroke-width="1.5"/>
<line x1="341.90" y1="643.50" x2="346.90" y2="643.50" stroke="#000" stroke-width="1.6"/>
<rect x="350.50" y="717.25" width="9.40" height="2.95" fill="#42fc06"/>
<line x1="354.80" y1="713.00" x2="354.80" y2="717.25" stroke="#000" stroke-width="1.5"/>
<line x1="352.30" y1="713.00" x2="357.30" y2="713.00" stroke="#000" stroke-width="1.6"/>
<rect x="366.10" y="615.98" width="9.40" height="104.22" fill="#c8001e"/>
<line x1="370.40" y1="605.50" x2="370.40" y2="615.98" stroke="#000" stroke-width="1.5"/>
<line x1="367.90" y1="605.50" x2="372.90" y2="605.50" stroke="#000" stroke-width="1.6"/>
<rect x="376.90" y="625.57" width="9.40" height="94.63" fill="#0a35ac"/>
<line x1="381.20" y1="618.80" x2="381.20" y2="625.57" stroke="#000" stroke-width="1.5"/>
<line x1="378.70" y1="618.80" x2="383.70" y2="618.80" stroke="#000" stroke-width="1.6"/>
<rect x="387.70" y="707.42" width="9.40" height="12.78" fill="#42fc06"/>
<line x1="392.00" y1="697.80" x2="392.00" y2="707.42" stroke="#000" stroke-width="1.5"/>
<line x1="389.50" y1="697.80" x2="394.50" y2="697.80" stroke="#000" stroke-width="1.6"/>
<rect x="403.00" y="694.15" width="9.40" height="26.05" fill="#c8001e"/>
<line x1="407.30" y1="688.60" x2="407.30" y2="694.15" stroke="#000" stroke-width="1.5"/>
<line x1="404.80" y1="688.60" x2="409.80" y2="688.60" stroke="#000" stroke-width="1.6"/>
<rect x="413.80" y="698.57" width="9.40" height="21.63" fill="#0a35ac"/>
<line x1="418.10" y1="693.20" x2="418.10" y2="698.57" stroke="#000" stroke-width="1.5"/>
<line x1="415.60" y1="693.20" x2="420.60" y2="693.20" stroke="#000" stroke-width="1.6"/>
<rect x="424.60" y="717.99" width="9.40" height="2.21" fill="#42fc06"/>
<line x1="428.90" y1="714.50" x2="428.90" y2="717.99" stroke="#000" stroke-width="1.5"/>
<line x1="426.40" y1="714.50" x2="431.40" y2="714.50" stroke="#000" stroke-width="1.6"/>
<rect x="440.00" y="696.36" width="9.40" height="23.84" fill="#c8001e"/>
<line x1="444.30" y1="691.70" x2="444.30" y2="696.36" stroke="#000" stroke-width="1.5"/>
<line x1="441.80" y1="691.70" x2="446.80" y2="691.70" stroke="#000" stroke-width="1.6"/>
<rect x="450.80" y="698.32" width="9.40" height="21.88" fill="#0a35ac"/>
<line x1="455.10" y1="695.40" x2="455.10" y2="698.32" stroke="#000" stroke-width="1.5"/>
<line x1="452.60" y1="695.40" x2="457.60" y2="695.40" stroke="#000" stroke-width="1.6"/>
<rect x="461.50" y="717.25" width="9.40" height="2.95" fill="#42fc06"/>
<line x1="465.80" y1="712.30" x2="465.80" y2="717.25" stroke="#000" stroke-width="1.5"/>
<line x1="463.30" y1="712.30" x2="468.30" y2="712.30" stroke="#000" stroke-width="1.6"/>
<line x1="295.70" y1="709.80" x2="309.20" y2="709.80" stroke="#000" stroke-width="1.6"/>
<text x="302.45" y="707.40" font-size="11" text-anchor="middle" textLength="10.20" lengthAdjust="spacingAndGlyphs">ns</text>
<line x1="310.00" y1="712.10" x2="323.00" y2="712.10" stroke="#000" stroke-width="1.6"/>
<text x="316.50" y="713.50" font-size="11.2" text-anchor="middle" textLength="4.69" lengthAdjust="spacingAndGlyphs">*</text>
<line x1="332.90" y1="624.70" x2="345.30" y2="624.70" stroke="#000" stroke-width="1.6"/>
<text x="339.10" y="622.30" font-size="11" text-anchor="middle" textLength="10.20" lengthAdjust="spacingAndGlyphs">ns</text>
<line x1="343.00" y1="639.10" x2="361.10" y2="639.10" stroke="#000" stroke-width="1.6"/>
<text x="352.05" y="640.50" font-size="11.2" text-anchor="middle" textLength="18.53" lengthAdjust="spacingAndGlyphs">****</text>
<line x1="369.00" y1="602.20" x2="382.80" y2="602.20" stroke="#000" stroke-width="1.6"/>
<text x="375.90" y="599.80" font-size="11" text-anchor="middle" textLength="10.20" lengthAdjust="spacingAndGlyphs">ns</text>
<line x1="378.50" y1="614.80" x2="396.90" y2="614.80" stroke="#000" stroke-width="1.6"/>
<text x="387.70" y="616.20" font-size="11.2" text-anchor="middle" textLength="18.53" lengthAdjust="spacingAndGlyphs">****</text>
<line x1="406.80" y1="682.50" x2="420.60" y2="682.50" stroke="#000" stroke-width="1.6"/>
<text x="413.70" y="680.10" font-size="11" text-anchor="middle" textLength="10.20" lengthAdjust="spacingAndGlyphs">ns</text>
<line x1="417.00" y1="690.80" x2="435.40" y2="690.80" stroke="#000" stroke-width="1.6"/>
<text x="426.20" y="692.20" font-size="11.2" text-anchor="middle" textLength="18.53" lengthAdjust="spacingAndGlyphs">****</text>
<line x1="441.50" y1="683.00" x2="455.40" y2="683.00" stroke="#000" stroke-width="1.6"/>
<text x="448.45" y="680.60" font-size="11" text-anchor="middle" textLength="10.20" lengthAdjust="spacingAndGlyphs">ns</text>
<line x1="453.80" y1="692.30" x2="473.80" y2="692.30" stroke="#000" stroke-width="1.6"/>
<text x="463.80" y="693.70" font-size="11.2" text-anchor="middle" textLength="18.53" lengthAdjust="spacingAndGlyphs">****</text>
<text x="258.00" y="658.60" font-size="13.3" text-anchor="middle" textLength="73.60" lengthAdjust="spacingAndGlyphs" transform="rotate(-90 258.00 658.60)">No. of colonies</text>
<text x="314.50" y="735.30" font-size="12.4" text-anchor="end" textLength="36.00" lengthAdjust="spacingAndGlyphs" transform="rotate(-45 314.50 735.30)">GEMM</text>
<text x="350.60" y="735.30" font-size="12.4" text-anchor="end" textLength="18.50" lengthAdjust="spacingAndGlyphs" transform="rotate(-45 350.60 735.30)">GM</text>
<text x="388.00" y="735.30" font-size="12.4" text-anchor="end" textLength="33.50" lengthAdjust="spacingAndGlyphs" transform="rotate(-45 388.00 735.30)">BFU-E</text>
<text x="424.00" y="735.30" font-size="12.4" text-anchor="end" textLength="36.00" lengthAdjust="spacingAndGlyphs" transform="rotate(-45 424.00 735.30)">CFU-M</text>
<text x="460.50" y="735.30" font-size="12.4" text-anchor="end" textLength="35.00" lengthAdjust="spacingAndGlyphs" transform="rotate(-45 460.50 735.30)">CFU-G</text>
<rect x="422.80" y="617.60" width="17.60" height="6.00" fill="#c8001e"/>
<text x="444.80" y="624.80" font-size="11.6" textLength="57.60" lengthAdjust="spacingAndGlyphs">UTD T-cells</text>
<rect x="422.80" y="630.55" width="17.60" height="6.00" fill="#0a35ac"/>
<text x="444.80" y="637.75" font-size="11.6" textLength="64.60" lengthAdjust="spacingAndGlyphs">Siglec-6_BBz</text>
<rect x="422.80" y="643.50" width="17.60" height="6.00" fill="#42fc06"/>
<text x="444.80" y="650.70" font-size="11.6" textLength="59.10" lengthAdjust="spacingAndGlyphs">CD123_BBz</text>
<text x="11.00" y="787.50" font-size="16.0" textLength="10.40" lengthAdjust="spacingAndGlyphs" font-weight="bold">F</text>
<rect x="156.80" y="892.60" width="30.60" height="38.40" fill="#fbe2f8" stroke="#000" stroke-width="1.8"/>
<rect x="250.10" y="805.20" width="40.40" height="105.60" fill="#fbe2f8" stroke="#000" stroke-width="1.8"/>
<line x1="54.60" y1="804.60" x2="54.60" y2="926.20" stroke="#000" stroke-width="1.7"/>
<line x1="49.50" y1="925.20" x2="54.60" y2="925.20" stroke="#000" stroke-width="1.6"/>
<text x="45.80" y="928.90" font-size="10.5" text-anchor="end" textLength="5.80" lengthAdjust="spacingAndGlyphs">0</text>
<line x1="49.50" y1="901.10" x2="54.60" y2="901.10" stroke="#000" stroke-width="1.6"/>
<text x="45.80" y="904.80" font-size="10.5" text-anchor="end" textLength="5.80" lengthAdjust="spacingAndGlyphs">2</text>
<line x1="49.50" y1="877.00" x2="54.60" y2="877.00" stroke="#000" stroke-width="1.6"/>
<text x="45.80" y="880.70" font-size="10.5" text-anchor="end" textLength="5.80" lengthAdjust="spacingAndGlyphs">4</text>
<line x1="49.50" y1="852.90" x2="54.60" y2="852.90" stroke="#000" stroke-width="1.6"/>
<text x="45.80" y="856.60" font-size="10.5" text-anchor="end" textLength="5.80" lengthAdjust="spacingAndGlyphs">6</text>
<line x1="49.50" y1="828.80" x2="54.60" y2="828.80" stroke="#000" stroke-width="1.6"/>
<text x="45.80" y="832.50" font-size="10.5" text-anchor="end" textLength="5.80" lengthAdjust="spacingAndGlyphs">8</text>
<line x1="49.50" y1="804.70" x2="54.60" y2="804.70" stroke="#000" stroke-width="1.6"/>
<text x="45.80" y="808.40" font-size="10.5" text-anchor="end" textLength="11.80" lengthAdjust="spacingAndGlyphs">10</text>
<line x1="53.80" y1="925.20" x2="284.70" y2="925.20" stroke="#000" stroke-width="1.8"/>
<line x1="71.80" y1="925.20" x2="71.80" y2="929.80" stroke="#000" stroke-width="1.6"/>
<line x1="104.40" y1="925.20" x2="104.40" y2="929.80" stroke="#000" stroke-width="1.6"/>
<line x1="137.20" y1="925.20" x2="137.20" y2="929.80" stroke="#000" stroke-width="1.6"/>
<line x1="169.60" y1="925.20" x2="169.60" y2="929.80" stroke="#000" stroke-width="1.6"/>
<line x1="201.90" y1="925.20" x2="201.90" y2="929.80" stroke="#000" stroke-width="1.6"/>
<line x1="234.50" y1="925.20" x2="234.50" y2="929.80" stroke="#000" stroke-width="1.6"/>
<line x1="267.40" y1="925.20" x2="267.40" y2="929.80" stroke="#000" stroke-width="1.6"/>
<line x1="55.60" y1="913.40" x2="285.60" y2="913.40" stroke="#000" stroke-width="1.8" stroke-dasharray="4.2 2.6"/>
<path d="M86.3 886 L86.3 792.5 L266.3 792.5 L266.3 787.3" stroke="#000" stroke-width="1.5" fill="none"/>
<path d="M169.6 892.6 L169.6 801.2 L266.3 801.2 L266.3 805.2" stroke="#000" stroke-width="1.5" fill="none"/>
<path d="M233.6 791.6 L233.6 787.3 L266.3 787.3" stroke="#000" stroke-width="1.5" fill="none"/>
<line x1="63.20" y1="886.00" x2="140.50" y2="886.00" stroke="#000" stroke-width="1.6"/>
<line x1="63.20" y1="903.30" x2="140.50" y2="903.30" stroke="#000" stroke-width="1.6"/>
<text x="89.10" y="899.80" font-size="10.5" text-anchor="middle" textLength="10.00" lengthAdjust="spacingAndGlyphs">ns</text>
<text x="249.90" y="784.10" font-size="11.0" text-anchor="middle" textLength="10.60" lengthAdjust="spacingAndGlyphs">ns</text>
<text x="215.30" y="802.60" font-size="10.5" text-anchor="middle" textLength="8.80" lengthAdjust="spacingAndGlyphs">**</text>
<text x="139.40" y="793.50" font-size="10.5" text-anchor="middle" textLength="13.00" lengthAdjust="spacingAndGlyphs">***</text>
<circle cx="64.50" cy="913.50" r="3.6" fill="none" stroke="#c8001e" stroke-width="1.6"/>
<circle cx="70.00" cy="912.50" r="3.6" fill="none" stroke="#c8001e" stroke-width="1.6"/>
<circle cx="75.50" cy="913.50" r="3.6" fill="none" stroke="#c8001e" stroke-width="1.6"/>
<circle cx="79.00" cy="916.50" r="3.6" fill="none" stroke="#c8001e" stroke-width="1.6"/>
<circle cx="63.50" cy="918.50" r="3.6" fill="none" stroke="#c8001e" stroke-width="1.6"/>
<circle cx="69.50" cy="919.50" r="3.6" fill="none" stroke="#c8001e" stroke-width="1.6"/>
<circle cx="75.00" cy="919.70" r="3.6" fill="none" stroke="#c8001e" stroke-width="1.6"/>
<circle cx="97.00" cy="911.00" r="3.6" fill="none" stroke="#c8001e" stroke-width="1.6"/>
<circle cx="102.50" cy="910.00" r="3.6" fill="none" stroke="#c8001e" stroke-width="1.6"/>
<circle cx="108.00" cy="911.00" r="3.6" fill="none" stroke="#c8001e" stroke-width="1.6"/>
<circle cx="111.50" cy="914.50" r="3.6" fill="none" stroke="#c8001e" stroke-width="1.6"/>
<circle cx="96.50" cy="915.50" r="3.6" fill="none" stroke="#c8001e" stroke-width="1.6"/>
<circle cx="102.00" cy="916.50" r="3.6" fill="none" stroke="#c8001e" stroke-width="1.6"/>
<circle cx="107.50" cy="916.80" r="3.6" fill="none" stroke="#c8001e" stroke-width="1.6"/>
<circle cx="130.00" cy="913.00" r="3.6" fill="none" stroke="#c8001e" stroke-width="1.6"/>
<circle cx="135.50" cy="912.50" r="3.6" fill="none" stroke="#c8001e" stroke-width="1.6"/>
<circle cx="141.00" cy="913.50" r="3.6" fill="none" stroke="#c8001e" stroke-width="1.6"/>
<circle cx="144.50" cy="916.50" r="3.6" fill="none" stroke="#c8001e" stroke-width="1.6"/>
<circle cx="129.30" cy="917.50" r="3.6" fill="none" stroke="#c8001e" stroke-width="1.6"/>
<circle cx="135.00" cy="919.20" r="3.6" fill="none" stroke="#c8001e" stroke-width="1.6"/>
<circle cx="140.50" cy="919.00" r="3.6" fill="none" stroke="#c8001e" stroke-width="1.6"/>
<line x1="61.00" y1="916.00" x2="82.00" y2="916.00" stroke="#000" stroke-width="1.9"/>
<line x1="93.00" y1="913.30" x2="114.50" y2="913.30" stroke="#000" stroke-width="1.9"/>
<line x1="126.00" y1="915.80" x2="147.50" y2="915.80" stroke="#000" stroke-width="1.9"/>
<circle cx="169.50" cy="900.50" r="3.4" fill="#0a37b0"/>
<circle cx="165.10" cy="907.20" r="3.4" fill="#0a37b0"/>
<circle cx="170.90" cy="909.90" r="3.4" fill="#0a37b0"/>
<circle cx="162.50" cy="914.30" r="3.4" fill="#0a37b0"/>
<circle cx="166.30" cy="915.30" r="3.4" fill="#0a37b0"/>
<circle cx="170.30" cy="915.60" r="3.4" fill="#0a37b0"/>
<circle cx="174.30" cy="915.30" r="3.4" fill="#0a37b0"/>
<circle cx="177.00" cy="914.20" r="3.4" fill="#0a37b0"/>
<circle cx="163.50" cy="911.50" r="3.4" fill="#0a37b0"/>
<circle cx="175.00" cy="911.80" r="3.4" fill="#0a37b0"/>
<line x1="158.70" y1="910.60" x2="180.30" y2="910.60" stroke="#000" stroke-width="1.9"/>
<path d="M195.10 913.30L199.30 920.65L190.90 920.65Z" fill="#45fa0a"/>
<path d="M208.80 911.30L212.80 918.30L204.80 918.30Z" fill="#45fa0a"/>
<line x1="191.00" y1="915.70" x2="213.30" y2="915.70" stroke="#000" stroke-width="1.9"/>
<path d="M234.50 823.30L238.60 830.48L230.40 830.48Z" fill="#1e0e9c"/>
<path d="M234.50 867.20L238.60 874.38L230.40 874.38Z" fill="#1e0e9c"/>
<path d="M234.50 890.20L238.60 897.38L230.40 897.38Z" fill="#1e0e9c"/>
<path d="M234.50 908.40L238.60 915.58L230.40 915.58Z" fill="#1e0e9c"/>
<line x1="224.40" y1="875.30" x2="245.80" y2="875.30" stroke="#000" stroke-width="1.8"/>
<circle cx="267.40" cy="808.90" r="3.7" fill="#ff7a0a"/>
<circle cx="267.40" cy="852.20" r="3.7" fill="#ff7a0a"/>
<circle cx="264.00" cy="875.30" r="3.7" fill="#ff7a0a"/>
<circle cx="271.10" cy="878.20" r="3.7" fill="#ff7a0a"/>
<circle cx="267.40" cy="890.60" r="3.7" fill="#ff7a0a"/>
<circle cx="260.50" cy="896.30" r="3.7" fill="#ff7a0a"/>
<circle cx="274.00" cy="893.50" r="3.7" fill="#ff7a0a"/>
<line x1="256.70" y1="870.40" x2="279.00" y2="870.40" stroke="#000" stroke-width="1.8"/>
<text x="25.00" y="865.30" font-size="13.2" text-anchor="middle" textLength="77.50" lengthAdjust="spacingAndGlyphs" transform="rotate(-90 25.00 865.30)">Normalized MFI</text>
<text x="78.40" y="940.10" font-size="11.9" text-anchor="end" textLength="35.84" lengthAdjust="spacingAndGlyphs" transform="rotate(-45 78.40 940.10)">T-cells</text>
<text x="111.40" y="940.10" font-size="11.9" text-anchor="end" textLength="42.80" lengthAdjust="spacingAndGlyphs" transform="rotate(-45 111.40 940.10)">NK cells</text>
<text x="143.40" y="940.10" font-size="11.9" text-anchor="end" textLength="50.83" lengthAdjust="spacingAndGlyphs" transform="rotate(-45 143.40 940.10)">NKT-cells</text>
<text x="176.40" y="940.10" font-size="11.9" text-anchor="end" textLength="67.41" lengthAdjust="spacingAndGlyphs" transform="rotate(-45 176.40 940.10)">Myeloid cells</text>
<text x="209.90" y="940.10" font-size="11.9" text-anchor="end" textLength="78.11" lengthAdjust="spacingAndGlyphs" transform="rotate(-45 209.90 940.10)">Sig-6<tspan dy="-3.8" font-size="8">−</tspan><tspan dy="3.8"> cell lines</tspan></text>
<text x="242.40" y="940.10" font-size="11.9" text-anchor="end" textLength="78.11" lengthAdjust="spacingAndGlyphs" transform="rotate(-45 242.40 940.10)">Sig-6<tspan dy="-3.8" font-size="8">+</tspan><tspan dy="3.8"> cell lines</tspan></text>
<text x="275.40" y="940.10" font-size="11.9" text-anchor="end" textLength="37.45" lengthAdjust="spacingAndGlyphs" transform="rotate(-45 275.40 940.10)">B-cells</text>
<text x="295.30" y="787.10" font-size="15.5" textLength="14.00" lengthAdjust="spacingAndGlyphs" font-weight="bold">G</text>
<line x1="328.70" y1="800.30" x2="328.70" y2="923.70" stroke="#000" stroke-width="1.7"/>
<line x1="323.60" y1="922.70" x2="328.70" y2="922.70" stroke="#000" stroke-width="1.6"/>
<text x="319.60" y="926.60" font-size="11.0" text-anchor="end" textLength="6.60" lengthAdjust="spacingAndGlyphs">0</text>
<line x1="323.60" y1="892.10" x2="328.70" y2="892.10" stroke="#000" stroke-width="1.6"/>
<text x="319.60" y="896.00" font-size="11.0" text-anchor="end" textLength="6.60" lengthAdjust="spacingAndGlyphs">5</text>
<line x1="323.60" y1="861.50" x2="328.70" y2="861.50" stroke="#000" stroke-width="1.6"/>
<text x="319.60" y="865.40" font-size="11.0" text-anchor="end" textLength="12.60" lengthAdjust="spacingAndGlyphs">10</text>
<line x1="323.60" y1="830.90" x2="328.70" y2="830.90" stroke="#000" stroke-width="1.6"/>
<text x="319.60" y="834.80" font-size="11.0" text-anchor="end" textLength="13.00" lengthAdjust="spacingAndGlyphs">15</text>
<line x1="323.60" y1="800.30" x2="328.70" y2="800.30" stroke="#000" stroke-width="1.6"/>
<text x="319.60" y="804.20" font-size="11.0" text-anchor="end" textLength="13.00" lengthAdjust="spacingAndGlyphs">20</text>
<line x1="327.90" y1="922.70" x2="387.30" y2="922.70" stroke="#000" stroke-width="1.8"/>
<line x1="342.90" y1="922.70" x2="342.90" y2="927.30" stroke="#000" stroke-width="1.6"/>
<line x1="371.90" y1="922.70" x2="371.90" y2="927.30" stroke="#000" stroke-width="1.6"/>
<line x1="329.70" y1="917.50" x2="386.90" y2="917.50" stroke="#000" stroke-width="1.8" stroke-dasharray="4.2 2.6"/>
<line x1="339.70" y1="814.40" x2="378.40" y2="814.40" stroke="#000" stroke-width="1.6"/>
<text x="359.00" y="815.00" font-size="10.5" text-anchor="middle" textLength="8.50" lengthAdjust="spacingAndGlyphs">**</text>
<text x="357.20" y="798.10" font-size="11.2" text-anchor="middle" textLength="33.60" lengthAdjust="spacingAndGlyphs">B cells</text>
<circle cx="342.90" cy="821.40" r="2.9" fill="#c8001e"/>
<circle cx="349.90" cy="845.10" r="2.9" fill="#c8001e"/>
<circle cx="335.90" cy="847.80" r="2.9" fill="#c8001e"/>
<circle cx="342.90" cy="862.70" r="2.9" fill="#c8001e"/>
<circle cx="342.90" cy="891.60" r="2.9" fill="#c8001e"/>
<line x1="333.40" y1="847.60" x2="352.80" y2="847.60" stroke="#000" stroke-width="1.8"/>
<circle cx="371.90" cy="875.40" r="2.9" fill="#0a37b0"/>
<circle cx="365.10" cy="899.50" r="2.9" fill="#0a37b0"/>
<circle cx="371.90" cy="900.10" r="2.9" fill="#0a37b0"/>
<circle cx="365.10" cy="907.50" r="2.9" fill="#0a37b0"/>
<circle cx="378.40" cy="904.80" r="2.9" fill="#0a37b0"/>
<line x1="363.00" y1="901.20" x2="382.00" y2="901.20" stroke="#000" stroke-width="1.8"/>
<line x1="418.80" y1="802.50" x2="418.80" y2="924.00" stroke="#000" stroke-width="1.7"/>
<line x1="413.80" y1="923.00" x2="418.80" y2="923.00" stroke="#000" stroke-width="1.6"/>
<text x="409.90" y="926.90" font-size="11.0" text-anchor="end" textLength="6.60" lengthAdjust="spacingAndGlyphs">0</text>
<line x1="413.80" y1="898.90" x2="418.80" y2="898.90" stroke="#000" stroke-width="1.6"/>
<text x="409.90" y="902.80" font-size="11.0" text-anchor="end" textLength="6.60" lengthAdjust="spacingAndGlyphs">2</text>
<line x1="413.80" y1="874.80" x2="418.80" y2="874.80" stroke="#000" stroke-width="1.6"/>
<text x="409.90" y="878.70" font-size="11.0" text-anchor="end" textLength="6.60" lengthAdjust="spacingAndGlyphs">4</text>
<line x1="413.80" y1="850.70" x2="418.80" y2="850.70" stroke="#000" stroke-width="1.6"/>
<text x="409.90" y="854.60" font-size="11.0" text-anchor="end" textLength="6.60" lengthAdjust="spacingAndGlyphs">6</text>
<line x1="413.80" y1="826.60" x2="418.80" y2="826.60" stroke="#000" stroke-width="1.6"/>
<text x="409.90" y="830.50" font-size="11.0" text-anchor="end" textLength="6.60" lengthAdjust="spacingAndGlyphs">8</text>
<line x1="413.80" y1="802.50" x2="418.80" y2="802.50" stroke="#000" stroke-width="1.6"/>
<text x="409.90" y="806.40" font-size="11.0" text-anchor="end" textLength="12.60" lengthAdjust="spacingAndGlyphs">10</text>
<line x1="418.00" y1="923.00" x2="495.50" y2="923.00" stroke="#000" stroke-width="1.8"/>
<line x1="430.50" y1="923.00" x2="430.50" y2="927.60" stroke="#000" stroke-width="1.6"/>
<line x1="456.30" y1="923.00" x2="456.30" y2="927.60" stroke="#000" stroke-width="1.6"/>
<line x1="482.50" y1="923.00" x2="482.50" y2="927.60" stroke="#000" stroke-width="1.6"/>
<line x1="427.50" y1="815.00" x2="478.00" y2="815.00" stroke="#000" stroke-width="1.6"/>
<text x="452.70" y="815.60" font-size="10.5" text-anchor="middle" textLength="8.50" lengthAdjust="spacingAndGlyphs">**</text>
<line x1="429.30" y1="902.50" x2="453.80" y2="902.50" stroke="#000" stroke-width="1.6"/>
<text x="441.50" y="898.60" font-size="10.5" text-anchor="middle" textLength="10.00" lengthAdjust="spacingAndGlyphs">ns</text>
<text x="456.60" y="797.50" font-size="11.2" text-anchor="middle" textLength="69.30" lengthAdjust="spacingAndGlyphs">Myeloid cells</text>
<line x1="482.20" y1="822.70" x2="482.20" y2="911.00" stroke="#45fa0a" stroke-width="1.8"/>
<path d="M477.6 822.7 L482.3 818.9 L487.0 822.7 L482.3 826.5 Z" fill="#45fa0a"/>
<line x1="473.80" y1="899.00" x2="490.00" y2="899.00" stroke="#45fa0a" stroke-width="1.8"/>
<circle cx="479.00" cy="846.20" r="3.0" fill="#45fa0a"/>
<circle cx="484.70" cy="852.20" r="3.0" fill="#45fa0a"/>
<circle cx="479.80" cy="855.00" r="3.0" fill="#45fa0a"/>
<circle cx="482.00" cy="888.30" r="3.0" fill="#45fa0a"/>
<circle cx="478.70" cy="898.70" r="3.0" fill="#45fa0a"/>
<circle cx="488.00" cy="898.70" r="3.0" fill="#45fa0a"/>
<circle cx="479.20" cy="905.80" r="3.0" fill="#45fa0a"/>
<circle cx="484.10" cy="905.80" r="3.0" fill="#45fa0a"/>
<circle cx="476.50" cy="911.30" r="3.0" fill="#45fa0a"/>
<circle cx="482.30" cy="911.80" r="3.0" fill="#45fa0a"/>
<circle cx="488.00" cy="911.30" r="3.0" fill="#45fa0a"/>
<circle cx="482.50" cy="902.50" r="3.0" fill="#45fa0a"/>
<circle cx="425.00" cy="911.50" r="2.6" fill="#c8001e"/>
<circle cx="428.50" cy="911.00" r="2.6" fill="#c8001e"/>
<circle cx="432.00" cy="911.80" r="2.6" fill="#c8001e"/>
<circle cx="435.50" cy="911.20" r="2.6" fill="#c8001e"/>
<circle cx="437.50" cy="912.00" r="2.6" fill="#c8001e"/>
<circle cx="426.50" cy="913.00" r="2.6" fill="#c8001e"/>
<circle cx="430.50" cy="913.20" r="2.6" fill="#c8001e"/>
<circle cx="434.00" cy="913.00" r="2.6" fill="#c8001e"/>
<circle cx="451.50" cy="909.30" r="3.0" fill="#0a37b0"/>
<circle cx="457.80" cy="909.00" r="3.0" fill="#0a37b0"/>
<circle cx="449.20" cy="913.60" r="3.0" fill="#0a37b0"/>
<circle cx="455.20" cy="913.60" r="3.0" fill="#0a37b0"/>
<circle cx="460.80" cy="912.60" r="3.0" fill="#0a37b0"/>
<circle cx="462.30" cy="915.60" r="3.0" fill="#0a37b0"/>
<line x1="414.80" y1="910.50" x2="491.30" y2="910.50" stroke="#000" stroke-width="1.8" stroke-dasharray="4.2 2.6"/>
<text x="350.90" y="938.40" font-size="12.4" text-anchor="end" textLength="43.50" lengthAdjust="spacingAndGlyphs" transform="rotate(-45 350.90 938.40)">Memory</text>
<text x="377.40" y="938.40" font-size="12.4" text-anchor="end" textLength="27.30" lengthAdjust="spacingAndGlyphs" transform="rotate(-45 377.40 938.40)">Naïve</text>
<text x="434.90" y="938.40" font-size="12.4" text-anchor="end" textLength="60.50" lengthAdjust="spacingAndGlyphs" transform="rotate(-45 434.90 938.40)">CD33<tspan dy="-3.8" font-size="8.5">+</tspan><tspan dy="3.8"> cells</tspan></text>
<text x="461.70" y="938.40" font-size="12.4" text-anchor="end" textLength="63.50" lengthAdjust="spacingAndGlyphs" transform="rotate(-45 461.70 938.40)">Neutrophils</text>
<text x="488.20" y="938.40" font-size="12.4" text-anchor="end" textLength="54.00" lengthAdjust="spacingAndGlyphs" transform="rotate(-45 488.20 938.40)">Basophils</text>
<text x="389.70" y="950.40" font-size="12.4" text-anchor="end" textLength="63.50" lengthAdjust="spacingAndGlyphs" transform="rotate(-45 389.70 950.40)">&amp; immature</text>
<rect x="1.00" y="1.00" width="518.00" height="1005.00" fill="none" stroke="#000" stroke-width="2"/>
</svg></body></html>
